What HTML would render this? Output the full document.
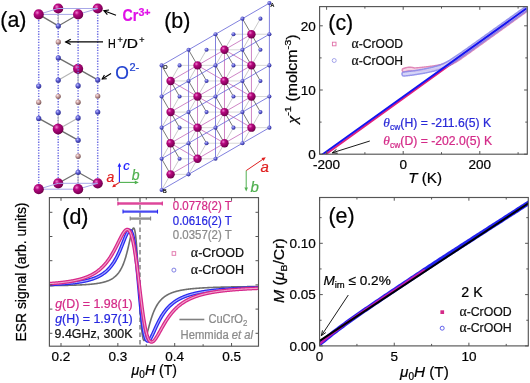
<!DOCTYPE html><html><head><meta charset="utf-8"><style>html,body{margin:0;padding:0;background:#fff;}svg{display:block;will-change:transform}</style></head><body>
<svg width="530" height="383" viewBox="0 0 530 383" font-family="'Liberation Sans', sans-serif">
<defs>
<radialGradient id="cr" cx="0.36" cy="0.33" r="0.75">
 <stop offset="0" stop-color="#f080d0"/><stop offset="0.3" stop-color="#b80880"/><stop offset="0.8" stop-color="#800058"/><stop offset="1" stop-color="#500030"/>
</radialGradient>
<radialGradient id="ox" cx="0.38" cy="0.35" r="0.72">
 <stop offset="0" stop-color="#c0c0ff"/><stop offset="0.45" stop-color="#5a5ad0"/><stop offset="1" stop-color="#2a2a88"/>
</radialGradient>
<radialGradient id="hy" cx="0.38" cy="0.35" r="0.72">
 <stop offset="0" stop-color="#f6e6e6"/><stop offset="0.45" stop-color="#c89c9c"/><stop offset="1" stop-color="#6a4848"/>
</radialGradient>
<clipPath id="clipd"><rect x="49" y="197.5" width="209.5" height="148.5"/></clipPath>
<clipPath id="clipc"><rect x="319.6" y="6.9" width="207" height="147.4"/></clipPath>
<clipPath id="clipe"><rect x="319.6" y="197.5" width="208.6" height="148.3"/></clipPath>
</defs>
<rect width="530" height="383" fill="#fff"/>
<text x="0.30" y="27.20" font-size="21.4" fill="#000" text-anchor="start"  stroke="#000" stroke-width="0.22">(a)</text>
<line x1="38.70" y1="12.00" x2="38.70" y2="186.00" stroke="#7070e4" stroke-width="1.5" stroke-dasharray="1.3 1.4"/>
<line x1="58.20" y1="12.00" x2="58.20" y2="186.00" stroke="#7070e4" stroke-width="1.5" stroke-dasharray="1.3 1.4"/>
<line x1="78.10" y1="12.00" x2="78.10" y2="186.00" stroke="#7070e4" stroke-width="1.5" stroke-dasharray="1.3 1.4"/>
<line x1="97.70" y1="12.00" x2="97.70" y2="186.00" stroke="#7070e4" stroke-width="1.5" stroke-dasharray="1.3 1.4"/>
<line x1="38.70" y1="14.40" x2="58.30" y2="25.90" stroke="#6e6e6e" stroke-width="1.3" />
<line x1="78.10" y1="14.40" x2="58.30" y2="25.90" stroke="#6e6e6e" stroke-width="1.1" />
<line x1="58.20" y1="8.50" x2="58.30" y2="25.90" stroke="#b4b4b4" stroke-width="1.0" />
<line x1="78.10" y1="68.80" x2="58.20" y2="57.80" stroke="#6e6e6e" stroke-width="1.4" />
<line x1="78.10" y1="68.80" x2="97.70" y2="79.90" stroke="#6e6e6e" stroke-width="1.4" />
<line x1="78.10" y1="68.80" x2="58.20" y2="80.20" stroke="#b4b4b4" stroke-width="1.1" />
<line x1="78.10" y1="68.80" x2="78.10" y2="85.70" stroke="#b4b4b4" stroke-width="1.1" />
<line x1="58.20" y1="129.20" x2="38.70" y2="118.40" stroke="#6e6e6e" stroke-width="1.4" />
<line x1="58.20" y1="129.20" x2="78.10" y2="140.20" stroke="#6e6e6e" stroke-width="1.4" />
<line x1="58.20" y1="129.20" x2="58.20" y2="112.40" stroke="#b4b4b4" stroke-width="1.1" />
<line x1="58.20" y1="129.20" x2="78.10" y2="117.90" stroke="#b4b4b4" stroke-width="1.1" />
<line x1="78.10" y1="172.30" x2="58.20" y2="183.30" stroke="#6e6e6e" stroke-width="1.3" />
<line x1="78.10" y1="172.30" x2="97.70" y2="183.30" stroke="#6e6e6e" stroke-width="1.3" />
<line x1="78.10" y1="172.30" x2="78.10" y2="189.20" stroke="#b4b4b4" stroke-width="1.0" />
<circle cx="58.20" cy="8.50" r="5.1" fill="url(#cr)"/>
<circle cx="97.70" cy="8.50" r="5.1" fill="url(#cr)"/>
<circle cx="58.20" cy="183.30" r="5.1" fill="url(#cr)"/>
<circle cx="97.70" cy="183.30" r="5.1" fill="url(#cr)"/>
<line x1="38.70" y1="14.40" x2="58.20" y2="8.50" stroke="#a8a8e8" stroke-width="1.0" />
<line x1="58.20" y1="8.50" x2="97.70" y2="8.50" stroke="#a8a8e8" stroke-width="1.0" />
<line x1="38.70" y1="14.40" x2="78.10" y2="14.40" stroke="#a8a8e8" stroke-width="1.0" />
<line x1="78.10" y1="14.40" x2="97.70" y2="8.50" stroke="#a8a8e8" stroke-width="1.0" />
<line x1="38.70" y1="189.20" x2="58.20" y2="183.30" stroke="#a8a8e8" stroke-width="1.0" />
<line x1="58.20" y1="183.30" x2="97.70" y2="183.30" stroke="#a8a8e8" stroke-width="1.0" />
<line x1="38.70" y1="189.20" x2="78.10" y2="189.20" stroke="#a8a8e8" stroke-width="1.0" />
<line x1="78.10" y1="189.20" x2="97.70" y2="183.30" stroke="#a8a8e8" stroke-width="1.0" />
<circle cx="38.70" cy="14.40" r="5.1" fill="url(#cr)"/>
<circle cx="78.10" cy="14.40" r="5.1" fill="url(#cr)"/>
<circle cx="38.70" cy="189.20" r="5.1" fill="url(#cr)"/>
<circle cx="78.10" cy="189.20" r="5.1" fill="url(#cr)"/>
<circle cx="78.10" cy="68.80" r="5.1" fill="url(#cr)"/>
<line x1="78.10" y1="63.80" x2="78.10" y2="74.00" stroke="#7070e4" stroke-width="1.5" stroke-dasharray="1.3 1.4"/>
<circle cx="58.10" cy="129.00" r="5.4" fill="url(#cr)"/>
<circle cx="58.30" cy="25.90" r="2.6" fill="url(#ox)"/>
<circle cx="58.30" cy="57.90" r="2.6" fill="url(#ox)"/>
<circle cx="58.20" cy="80.20" r="2.6" fill="url(#ox)"/>
<circle cx="97.70" cy="79.90" r="2.6" fill="url(#ox)"/>
<circle cx="38.70" cy="86.10" r="2.6" fill="url(#ox)"/>
<circle cx="78.10" cy="85.70" r="2.6" fill="url(#ox)"/>
<circle cx="58.20" cy="112.40" r="2.6" fill="url(#ox)"/>
<circle cx="97.70" cy="112.00" r="2.6" fill="url(#ox)"/>
<circle cx="38.70" cy="118.40" r="2.6" fill="url(#ox)"/>
<circle cx="78.10" cy="117.90" r="2.6" fill="url(#ox)"/>
<circle cx="78.10" cy="140.20" r="2.6" fill="url(#ox)"/>
<circle cx="78.10" cy="172.30" r="2.6" fill="url(#ox)"/>
<circle cx="58.30" cy="41.90" r="2.6" fill="url(#hy)"/>
<circle cx="58.20" cy="96.30" r="2.6" fill="url(#hy)"/>
<circle cx="97.70" cy="96.00" r="2.6" fill="url(#hy)"/>
<circle cx="38.70" cy="102.20" r="2.6" fill="url(#hy)"/>
<circle cx="78.10" cy="102.20" r="2.6" fill="url(#hy)"/>
<circle cx="78.10" cy="156.20" r="2.6" fill="url(#hy)"/>
<line x1="116.00" y1="15.20" x2="104.00" y2="10.70" stroke="#000" stroke-width="1.2" />
<polyline points="109.06,10.03 104.00,10.70 107.37,14.53" fill="none" stroke="#000" stroke-width="1.2"/>
<text x="122.4" y="20.8" font-size="16.5" font-weight="bold" fill="#e010e8" textLength="15.8" lengthAdjust="spacingAndGlyphs" stroke="#e010e8" stroke-width="0.22">Cr</text>
<text x="138.4" y="15.6" font-size="11.5" font-weight="bold" fill="#e010e8" textLength="12.2" lengthAdjust="spacingAndGlyphs" stroke="#e010e8" stroke-width="0.22">3+</text>
<line x1="103.00" y1="41.90" x2="65.70" y2="41.90" stroke="#000" stroke-width="1.2" />
<polyline points="70.70,39.30 65.70,41.90 70.70,44.50" fill="none" stroke="#000" stroke-width="1.2"/>
<text x="108.0" y="48.2" font-size="13.6" fill="#000" textLength="7.8" lengthAdjust="spacingAndGlyphs" stroke="#000" stroke-width="0.22">H</text>
<text x="117.6" y="43.3" font-size="9" fill="#000" stroke="#000" stroke-width="0.22">+</text>
<text x="122.4" y="48.2" font-size="13.6" fill="#000" textLength="15.5" lengthAdjust="spacingAndGlyphs" stroke="#000" stroke-width="0.22">/D</text>
<text x="139.2" y="43.3" font-size="9" fill="#000" stroke="#000" stroke-width="0.22">+</text>
<line x1="111.00" y1="73.50" x2="102.20" y2="79.00" stroke="#000" stroke-width="1.1" />
<polyline points="104.43,75.01 102.20,79.00 106.76,78.75" fill="none" stroke="#000" stroke-width="1.1"/>
<text x="115.2" y="78.8" font-size="17.5" fill="#2040d0" stroke="#2040d0" stroke-width="0.22">O</text>
<text x="129.4" y="71.4" font-size="11" fill="#2040d0" stroke="#2040d0" stroke-width="0.22">2-</text>
<line x1="119.40" y1="182.40" x2="119.40" y2="166.20" stroke="#2020ff" stroke-width="1.1" />
<polygon points="121.20,166.70 119.40,162.70 117.60,166.70" fill="#2020ff"/>
<line x1="119.40" y1="182.40" x2="135.30" y2="182.40" stroke="#50b050" stroke-width="1.1" />
<polygon points="134.80,184.20 138.80,182.40 134.80,180.60" fill="#50b050"/>
<line x1="119.40" y1="182.40" x2="114.61" y2="185.55" stroke="#e02020" stroke-width="1.1" />
<polygon points="114.04,183.77 112.10,187.20 116.01,186.78" fill="#e02020"/>
<text x="123.30" y="169.50" font-size="13" fill="#2020ff" text-anchor="start" font-style="italic" stroke="#2020ff" stroke-width="0.22">c</text>
<text x="106.50" y="182.00" font-size="14" fill="#e02020" text-anchor="start" font-style="italic" stroke="#e02020" stroke-width="0.22">a</text>
<text x="131.80" y="179.70" font-size="14" fill="#50b050" text-anchor="start" font-style="italic" stroke="#50b050" stroke-width="0.22">b</text>
<text x="164.20" y="27.60" font-size="21.4" fill="#000" text-anchor="start"  stroke="#000" stroke-width="0.22">(b)</text>
<line x1="251.43" y1="34.24" x2="233.47" y2="34.24" stroke="#d0d0d0" stroke-width="0.85" />
<line x1="251.43" y1="34.24" x2="269.40" y2="34.24" stroke="#d0d0d0" stroke-width="0.85" />
<line x1="224.48" y1="49.81" x2="206.52" y2="49.81" stroke="#d0d0d0" stroke-width="0.85" />
<line x1="224.48" y1="49.81" x2="242.45" y2="49.81" stroke="#d0d0d0" stroke-width="0.85" />
<line x1="197.53" y1="65.38" x2="179.57" y2="65.38" stroke="#d0d0d0" stroke-width="0.85" />
<line x1="197.53" y1="65.38" x2="215.50" y2="65.38" stroke="#d0d0d0" stroke-width="0.85" />
<line x1="251.43" y1="65.38" x2="233.47" y2="65.38" stroke="#d0d0d0" stroke-width="0.85" />
<line x1="251.43" y1="65.38" x2="269.40" y2="65.38" stroke="#d0d0d0" stroke-width="0.85" />
<line x1="170.58" y1="80.95" x2="188.55" y2="80.95" stroke="#d0d0d0" stroke-width="0.85" />
<line x1="224.48" y1="80.95" x2="206.52" y2="80.95" stroke="#d0d0d0" stroke-width="0.85" />
<line x1="224.48" y1="80.95" x2="242.45" y2="80.95" stroke="#d0d0d0" stroke-width="0.85" />
<line x1="197.53" y1="96.52" x2="179.57" y2="96.52" stroke="#d0d0d0" stroke-width="0.85" />
<line x1="197.53" y1="96.52" x2="215.50" y2="96.52" stroke="#d0d0d0" stroke-width="0.85" />
<line x1="251.44" y1="96.52" x2="233.47" y2="96.52" stroke="#d0d0d0" stroke-width="0.85" />
<line x1="251.44" y1="96.52" x2="269.40" y2="96.52" stroke="#d0d0d0" stroke-width="0.85" />
<line x1="170.58" y1="112.09" x2="188.55" y2="112.09" stroke="#d0d0d0" stroke-width="0.85" />
<line x1="224.49" y1="112.09" x2="206.52" y2="112.09" stroke="#d0d0d0" stroke-width="0.85" />
<line x1="224.49" y1="112.09" x2="242.45" y2="112.09" stroke="#d0d0d0" stroke-width="0.85" />
<line x1="197.54" y1="127.66" x2="179.57" y2="127.66" stroke="#d0d0d0" stroke-width="0.85" />
<line x1="197.54" y1="127.66" x2="215.50" y2="127.66" stroke="#d0d0d0" stroke-width="0.85" />
<line x1="251.44" y1="127.66" x2="233.47" y2="127.66" stroke="#d0d0d0" stroke-width="0.85" />
<line x1="251.44" y1="127.66" x2="269.40" y2="127.66" stroke="#d0d0d0" stroke-width="0.85" />
<line x1="170.59" y1="143.23" x2="188.55" y2="143.23" stroke="#d0d0d0" stroke-width="0.85" />
<line x1="224.49" y1="143.23" x2="206.52" y2="143.23" stroke="#d0d0d0" stroke-width="0.85" />
<line x1="224.49" y1="143.23" x2="242.45" y2="143.23" stroke="#d0d0d0" stroke-width="0.85" />
<line x1="197.54" y1="158.80" x2="179.57" y2="158.80" stroke="#d0d0d0" stroke-width="0.85" />
<line x1="197.54" y1="158.80" x2="215.50" y2="158.80" stroke="#d0d0d0" stroke-width="0.85" />
<line x1="170.59" y1="174.37" x2="188.55" y2="174.37" stroke="#d0d0d0" stroke-width="0.85" />
<line x1="251.43" y1="34.24" x2="242.45" y2="18.67" stroke="#6a6a6a" stroke-width="0.9" />
<line x1="251.43" y1="34.24" x2="260.42" y2="49.81" stroke="#6a6a6a" stroke-width="0.9" />
<line x1="251.43" y1="34.24" x2="260.42" y2="18.67" stroke="#bcbcbc" stroke-width="0.8" />
<line x1="251.43" y1="34.24" x2="242.45" y2="49.81" stroke="#bcbcbc" stroke-width="0.8" />
<line x1="224.48" y1="49.81" x2="215.50" y2="34.24" stroke="#6a6a6a" stroke-width="0.9" />
<line x1="224.48" y1="49.81" x2="233.47" y2="65.38" stroke="#6a6a6a" stroke-width="0.9" />
<line x1="224.48" y1="49.81" x2="233.47" y2="34.24" stroke="#bcbcbc" stroke-width="0.8" />
<line x1="224.48" y1="49.81" x2="215.50" y2="65.38" stroke="#bcbcbc" stroke-width="0.8" />
<line x1="197.53" y1="65.38" x2="188.55" y2="49.81" stroke="#6a6a6a" stroke-width="0.9" />
<line x1="197.53" y1="65.38" x2="206.52" y2="80.95" stroke="#6a6a6a" stroke-width="0.9" />
<line x1="197.53" y1="65.38" x2="206.52" y2="49.81" stroke="#bcbcbc" stroke-width="0.8" />
<line x1="197.53" y1="65.38" x2="188.55" y2="80.95" stroke="#bcbcbc" stroke-width="0.8" />
<line x1="251.43" y1="65.38" x2="242.45" y2="49.81" stroke="#6a6a6a" stroke-width="0.9" />
<line x1="251.43" y1="65.38" x2="260.42" y2="80.95" stroke="#6a6a6a" stroke-width="0.9" />
<line x1="251.43" y1="65.38" x2="260.42" y2="49.81" stroke="#bcbcbc" stroke-width="0.8" />
<line x1="251.43" y1="65.38" x2="242.45" y2="80.95" stroke="#bcbcbc" stroke-width="0.8" />
<line x1="170.58" y1="80.95" x2="161.60" y2="65.38" stroke="#6a6a6a" stroke-width="0.9" />
<line x1="170.58" y1="80.95" x2="179.57" y2="96.52" stroke="#6a6a6a" stroke-width="0.9" />
<line x1="170.58" y1="80.95" x2="179.57" y2="65.38" stroke="#bcbcbc" stroke-width="0.8" />
<line x1="170.58" y1="80.95" x2="161.60" y2="96.52" stroke="#bcbcbc" stroke-width="0.8" />
<line x1="224.48" y1="80.95" x2="215.50" y2="65.38" stroke="#6a6a6a" stroke-width="0.9" />
<line x1="224.48" y1="80.95" x2="233.47" y2="96.52" stroke="#6a6a6a" stroke-width="0.9" />
<line x1="224.48" y1="80.95" x2="233.47" y2="65.38" stroke="#bcbcbc" stroke-width="0.8" />
<line x1="224.48" y1="80.95" x2="215.50" y2="96.52" stroke="#bcbcbc" stroke-width="0.8" />
<line x1="197.53" y1="96.52" x2="188.55" y2="80.95" stroke="#6a6a6a" stroke-width="0.9" />
<line x1="197.53" y1="96.52" x2="206.52" y2="112.09" stroke="#6a6a6a" stroke-width="0.9" />
<line x1="197.53" y1="96.52" x2="206.52" y2="80.95" stroke="#bcbcbc" stroke-width="0.8" />
<line x1="197.53" y1="96.52" x2="188.55" y2="112.09" stroke="#bcbcbc" stroke-width="0.8" />
<line x1="251.44" y1="96.52" x2="242.45" y2="80.95" stroke="#6a6a6a" stroke-width="0.9" />
<line x1="251.44" y1="96.52" x2="260.42" y2="112.09" stroke="#6a6a6a" stroke-width="0.9" />
<line x1="251.44" y1="96.52" x2="260.42" y2="80.95" stroke="#bcbcbc" stroke-width="0.8" />
<line x1="251.44" y1="96.52" x2="242.45" y2="112.09" stroke="#bcbcbc" stroke-width="0.8" />
<line x1="170.58" y1="112.09" x2="161.60" y2="96.52" stroke="#6a6a6a" stroke-width="0.9" />
<line x1="170.58" y1="112.09" x2="179.57" y2="127.66" stroke="#6a6a6a" stroke-width="0.9" />
<line x1="170.58" y1="112.09" x2="179.57" y2="96.52" stroke="#bcbcbc" stroke-width="0.8" />
<line x1="170.58" y1="112.09" x2="161.60" y2="127.66" stroke="#bcbcbc" stroke-width="0.8" />
<line x1="224.49" y1="112.09" x2="215.50" y2="96.52" stroke="#6a6a6a" stroke-width="0.9" />
<line x1="224.49" y1="112.09" x2="233.47" y2="127.66" stroke="#6a6a6a" stroke-width="0.9" />
<line x1="224.49" y1="112.09" x2="233.47" y2="96.52" stroke="#bcbcbc" stroke-width="0.8" />
<line x1="224.49" y1="112.09" x2="215.50" y2="127.66" stroke="#bcbcbc" stroke-width="0.8" />
<line x1="197.54" y1="127.66" x2="188.55" y2="112.09" stroke="#6a6a6a" stroke-width="0.9" />
<line x1="197.54" y1="127.66" x2="206.52" y2="143.23" stroke="#6a6a6a" stroke-width="0.9" />
<line x1="197.54" y1="127.66" x2="206.52" y2="112.09" stroke="#bcbcbc" stroke-width="0.8" />
<line x1="197.54" y1="127.66" x2="188.55" y2="143.23" stroke="#bcbcbc" stroke-width="0.8" />
<line x1="251.44" y1="127.66" x2="242.45" y2="112.09" stroke="#6a6a6a" stroke-width="0.9" />
<line x1="251.44" y1="127.66" x2="260.42" y2="112.09" stroke="#bcbcbc" stroke-width="0.8" />
<line x1="251.44" y1="127.66" x2="242.45" y2="143.23" stroke="#bcbcbc" stroke-width="0.8" />
<line x1="170.59" y1="143.23" x2="161.60" y2="127.66" stroke="#6a6a6a" stroke-width="0.9" />
<line x1="170.59" y1="143.23" x2="179.57" y2="158.80" stroke="#6a6a6a" stroke-width="0.9" />
<line x1="170.59" y1="143.23" x2="179.57" y2="127.66" stroke="#bcbcbc" stroke-width="0.8" />
<line x1="170.59" y1="143.23" x2="161.60" y2="158.80" stroke="#bcbcbc" stroke-width="0.8" />
<line x1="224.49" y1="143.23" x2="215.50" y2="127.66" stroke="#6a6a6a" stroke-width="0.9" />
<line x1="224.49" y1="143.23" x2="233.47" y2="127.66" stroke="#bcbcbc" stroke-width="0.8" />
<line x1="224.49" y1="143.23" x2="215.50" y2="158.80" stroke="#bcbcbc" stroke-width="0.8" />
<line x1="197.54" y1="158.80" x2="188.55" y2="143.23" stroke="#6a6a6a" stroke-width="0.9" />
<line x1="197.54" y1="158.80" x2="206.52" y2="143.23" stroke="#bcbcbc" stroke-width="0.8" />
<line x1="197.54" y1="158.80" x2="188.55" y2="174.37" stroke="#bcbcbc" stroke-width="0.8" />
<line x1="170.59" y1="174.37" x2="161.60" y2="158.80" stroke="#6a6a6a" stroke-width="0.9" />
<line x1="170.59" y1="174.37" x2="179.57" y2="158.80" stroke="#bcbcbc" stroke-width="0.8" />
<line x1="170.59" y1="174.37" x2="161.60" y2="189.94" stroke="#bcbcbc" stroke-width="0.8" />
<line x1="251.43" y1="34.24" x2="251.43" y2="65.38" stroke="#c878c0" stroke-width="0.9" />
<line x1="224.48" y1="49.81" x2="224.48" y2="80.95" stroke="#c878c0" stroke-width="0.9" />
<line x1="224.48" y1="49.81" x2="251.43" y2="34.24" stroke="#c878c0" stroke-width="0.9" />
<line x1="224.48" y1="49.81" x2="251.43" y2="65.38" stroke="#c878c0" stroke-width="0.9" />
<line x1="197.53" y1="65.38" x2="197.53" y2="96.52" stroke="#c878c0" stroke-width="0.9" />
<line x1="197.53" y1="65.38" x2="224.48" y2="49.81" stroke="#c878c0" stroke-width="0.9" />
<line x1="197.53" y1="65.38" x2="224.48" y2="80.95" stroke="#c878c0" stroke-width="0.9" />
<line x1="251.43" y1="65.38" x2="251.43" y2="96.52" stroke="#c878c0" stroke-width="0.9" />
<line x1="170.58" y1="80.95" x2="170.58" y2="112.09" stroke="#c878c0" stroke-width="0.9" />
<line x1="170.58" y1="80.95" x2="197.53" y2="65.38" stroke="#c878c0" stroke-width="0.9" />
<line x1="170.58" y1="80.95" x2="197.53" y2="96.52" stroke="#c878c0" stroke-width="0.9" />
<line x1="224.48" y1="80.95" x2="224.48" y2="112.09" stroke="#c878c0" stroke-width="0.9" />
<line x1="224.48" y1="80.95" x2="251.43" y2="65.38" stroke="#c878c0" stroke-width="0.9" />
<line x1="224.48" y1="80.95" x2="251.43" y2="96.52" stroke="#c878c0" stroke-width="0.9" />
<line x1="197.53" y1="96.52" x2="197.53" y2="127.66" stroke="#c878c0" stroke-width="0.9" />
<line x1="197.53" y1="96.52" x2="224.48" y2="80.95" stroke="#c878c0" stroke-width="0.9" />
<line x1="197.53" y1="96.52" x2="224.48" y2="112.09" stroke="#c878c0" stroke-width="0.9" />
<line x1="251.44" y1="96.52" x2="251.44" y2="127.66" stroke="#c878c0" stroke-width="0.9" />
<line x1="170.58" y1="112.09" x2="170.58" y2="143.23" stroke="#c878c0" stroke-width="0.9" />
<line x1="170.58" y1="112.09" x2="197.53" y2="96.52" stroke="#c878c0" stroke-width="0.9" />
<line x1="170.58" y1="112.09" x2="197.53" y2="127.66" stroke="#c878c0" stroke-width="0.9" />
<line x1="224.49" y1="112.09" x2="224.49" y2="143.23" stroke="#c878c0" stroke-width="0.9" />
<line x1="224.49" y1="112.09" x2="251.44" y2="96.52" stroke="#c878c0" stroke-width="0.9" />
<line x1="224.49" y1="112.09" x2="251.44" y2="127.66" stroke="#c878c0" stroke-width="0.9" />
<line x1="197.54" y1="127.66" x2="197.54" y2="158.80" stroke="#c878c0" stroke-width="0.9" />
<line x1="197.54" y1="127.66" x2="224.49" y2="112.09" stroke="#c878c0" stroke-width="0.9" />
<line x1="197.54" y1="127.66" x2="224.49" y2="143.23" stroke="#c878c0" stroke-width="0.9" />
<line x1="170.59" y1="143.23" x2="170.59" y2="174.37" stroke="#c878c0" stroke-width="0.9" />
<line x1="170.59" y1="143.23" x2="197.54" y2="127.66" stroke="#c878c0" stroke-width="0.9" />
<line x1="170.59" y1="143.23" x2="197.54" y2="158.80" stroke="#c878c0" stroke-width="0.9" />
<line x1="224.49" y1="143.23" x2="251.44" y2="127.66" stroke="#c878c0" stroke-width="0.9" />
<line x1="197.54" y1="158.80" x2="224.49" y2="143.23" stroke="#c878c0" stroke-width="0.9" />
<line x1="170.59" y1="174.37" x2="197.54" y2="158.80" stroke="#c878c0" stroke-width="0.9" />
<line x1="161.60" y1="65.38" x2="161.60" y2="189.94" stroke="#6a6ad8" stroke-width="0.85" />
<line x1="188.55" y1="49.81" x2="188.55" y2="174.37" stroke="#6a6ad8" stroke-width="0.85" />
<line x1="215.50" y1="34.24" x2="215.50" y2="158.80" stroke="#6a6ad8" stroke-width="0.85" />
<line x1="242.45" y1="18.67" x2="242.45" y2="143.23" stroke="#6a6ad8" stroke-width="0.85" />
<line x1="269.40" y1="3.10" x2="269.40" y2="127.66" stroke="#6a6ad8" stroke-width="0.85" />
<line x1="161.60" y1="65.38" x2="269.40" y2="3.10" stroke="#6a6ad8" stroke-width="0.85" />
<line x1="161.60" y1="96.52" x2="269.40" y2="34.24" stroke="#6a6ad8" stroke-width="0.85" />
<line x1="161.60" y1="127.66" x2="269.40" y2="65.38" stroke="#6a6ad8" stroke-width="0.85" />
<line x1="161.60" y1="158.80" x2="269.40" y2="96.52" stroke="#6a6ad8" stroke-width="0.85" />
<line x1="161.60" y1="189.94" x2="269.40" y2="127.66" stroke="#6a6ad8" stroke-width="0.85" />
<circle cx="269.40" cy="3.10" r="2.05" fill="url(#ox)"/>
<circle cx="242.45" cy="18.67" r="2.05" fill="url(#ox)"/>
<circle cx="260.42" cy="18.67" r="2.05" fill="url(#ox)"/>
<circle cx="215.50" cy="34.24" r="2.05" fill="url(#ox)"/>
<circle cx="233.47" cy="34.24" r="2.05" fill="url(#ox)"/>
<circle cx="269.40" cy="34.24" r="2.05" fill="url(#ox)"/>
<circle cx="188.55" cy="49.81" r="2.05" fill="url(#ox)"/>
<circle cx="206.52" cy="49.81" r="2.05" fill="url(#ox)"/>
<circle cx="242.45" cy="49.81" r="2.05" fill="url(#ox)"/>
<circle cx="260.42" cy="49.81" r="2.05" fill="url(#ox)"/>
<circle cx="161.60" cy="65.38" r="2.05" fill="url(#ox)"/>
<circle cx="179.57" cy="65.38" r="2.05" fill="url(#ox)"/>
<circle cx="215.50" cy="65.38" r="2.05" fill="url(#ox)"/>
<circle cx="233.47" cy="65.38" r="2.05" fill="url(#ox)"/>
<circle cx="269.40" cy="65.38" r="2.05" fill="url(#ox)"/>
<circle cx="188.55" cy="80.95" r="2.05" fill="url(#ox)"/>
<circle cx="206.52" cy="80.95" r="2.05" fill="url(#ox)"/>
<circle cx="242.45" cy="80.95" r="2.05" fill="url(#ox)"/>
<circle cx="260.42" cy="80.95" r="2.05" fill="url(#ox)"/>
<circle cx="161.60" cy="96.52" r="2.05" fill="url(#ox)"/>
<circle cx="179.57" cy="96.52" r="2.05" fill="url(#ox)"/>
<circle cx="215.50" cy="96.52" r="2.05" fill="url(#ox)"/>
<circle cx="233.47" cy="96.52" r="2.05" fill="url(#ox)"/>
<circle cx="269.40" cy="96.52" r="2.05" fill="url(#ox)"/>
<circle cx="188.55" cy="112.09" r="2.05" fill="url(#ox)"/>
<circle cx="206.52" cy="112.09" r="2.05" fill="url(#ox)"/>
<circle cx="242.45" cy="112.09" r="2.05" fill="url(#ox)"/>
<circle cx="260.42" cy="112.09" r="2.05" fill="url(#ox)"/>
<circle cx="161.60" cy="127.66" r="2.05" fill="url(#ox)"/>
<circle cx="179.57" cy="127.66" r="2.05" fill="url(#ox)"/>
<circle cx="215.50" cy="127.66" r="2.05" fill="url(#ox)"/>
<circle cx="233.47" cy="127.66" r="2.05" fill="url(#ox)"/>
<circle cx="269.40" cy="127.66" r="2.05" fill="url(#ox)"/>
<circle cx="188.55" cy="143.23" r="2.05" fill="url(#ox)"/>
<circle cx="206.52" cy="143.23" r="2.05" fill="url(#ox)"/>
<circle cx="242.45" cy="143.23" r="2.05" fill="url(#ox)"/>
<circle cx="161.60" cy="158.80" r="2.05" fill="url(#ox)"/>
<circle cx="179.57" cy="158.80" r="2.05" fill="url(#ox)"/>
<circle cx="215.50" cy="158.80" r="2.05" fill="url(#ox)"/>
<circle cx="188.55" cy="174.37" r="2.05" fill="url(#ox)"/>
<circle cx="161.60" cy="189.94" r="2.05" fill="url(#ox)"/>
<circle cx="251.43" cy="34.24" r="4.2" fill="url(#cr)"/>
<circle cx="224.48" cy="49.81" r="4.2" fill="url(#cr)"/>
<circle cx="197.53" cy="65.38" r="4.2" fill="url(#cr)"/>
<circle cx="251.43" cy="65.38" r="4.2" fill="url(#cr)"/>
<circle cx="170.58" cy="80.95" r="4.2" fill="url(#cr)"/>
<circle cx="224.48" cy="80.95" r="4.2" fill="url(#cr)"/>
<circle cx="197.53" cy="96.52" r="4.2" fill="url(#cr)"/>
<circle cx="251.44" cy="96.52" r="4.2" fill="url(#cr)"/>
<circle cx="170.58" cy="112.09" r="4.2" fill="url(#cr)"/>
<circle cx="224.49" cy="112.09" r="4.2" fill="url(#cr)"/>
<circle cx="197.54" cy="127.66" r="4.2" fill="url(#cr)"/>
<circle cx="251.44" cy="127.66" r="4.2" fill="url(#cr)"/>
<circle cx="170.59" cy="143.23" r="4.2" fill="url(#cr)"/>
<circle cx="224.49" cy="143.23" r="4.2" fill="url(#cr)"/>
<circle cx="197.54" cy="158.80" r="4.2" fill="url(#cr)"/>
<circle cx="170.59" cy="174.37" r="4.2" fill="url(#cr)"/>
<text x="163.20" y="68.50" font-size="5.5" fill="#000" text-anchor="start"  stroke="#000" stroke-width="0.22">O</text>
<text x="270.50" y="6.50" font-size="5.5" fill="#000" text-anchor="start"  stroke="#000" stroke-width="0.22">A</text>
<text x="163.00" y="193.00" font-size="5.5" fill="#000" text-anchor="start"  stroke="#000" stroke-width="0.22">B</text>
<line x1="246.20" y1="170.60" x2="262.90" y2="159.27" stroke="#e02020" stroke-width="1.0" />
<polygon points="263.50,161.04 265.80,157.30 261.48,158.06" fill="#e02020"/>
<line x1="246.20" y1="170.60" x2="246.20" y2="187.90" stroke="#50b050" stroke-width="1.0" />
<polygon points="244.40,187.40 246.20,191.40 248.00,187.40" fill="#50b050"/>
<text x="260.60" y="172.40" font-size="15" fill="#e02020" text-anchor="start" font-style="italic" stroke="#e02020" stroke-width="0.22">a</text>
<text x="250.60" y="191.60" font-size="15" fill="#50b050" text-anchor="start" font-style="italic" stroke="#50b050" stroke-width="0.22">b</text>
<clipPath id="clipc2"><rect x="319.6" y="6.6" width="207.69999999999993" height="147.6"/></clipPath>
<g clip-path="url(#clipc2)">
<polyline points="404.00,70.20 404.76,69.95 405.52,69.72 406.29,69.50 407.05,69.32 407.81,69.18 408.57,69.08 409.34,69.03 410.10,69.03 410.86,69.09 411.62,69.18 412.38,69.31 413.15,69.47 413.91,69.65 414.67,69.73 415.43,69.68 416.20,69.63 416.96,69.57 417.72,69.51 418.48,69.45 419.25,69.38 420.01,69.31 420.77,69.24 421.53,69.17 422.29,69.10 423.06,69.02 423.82,68.94 424.58,68.85 425.34,68.77 426.11,68.68 426.87,68.59 427.63,68.49 428.39,68.40 429.15,68.30 429.92,68.19 430.68,68.09 431.44,67.98 432.20,67.87 432.97,67.75 433.73,67.63 434.49,67.51 435.25,67.39 436.02,67.26 436.78,67.12 437.54,66.98 438.30,66.84 439.06,66.69 439.83,66.53 440.59,66.36 441.35,66.19 442.11,66.00 442.88,65.81 443.64,65.61 444.40,65.39 445.16,65.16 445.92,64.91 446.69,64.64 447.45,64.36 448.21,64.06 448.97,63.74 449.74,63.40 450.50,63.05 451.26,62.67 452.02,62.27 452.78,61.86 453.55,61.43 454.31,60.99 455.07,60.53 455.83,60.06 456.60,59.58 457.36,59.09 458.12,58.59 458.88,58.08 459.65,57.56 460.41,57.05 461.17,56.52 461.93,56.00 462.69,55.46 463.46,54.93 464.22,54.39 464.98,53.86 465.74,53.32 466.51,52.78 467.27,52.23 468.03,51.69 468.79,51.15 469.55,50.60 470.32,50.05 471.08,49.51 471.84,48.96 472.60,48.41 473.37,47.87 474.13,47.32 474.89,46.77 475.65,46.22 476.42,45.68 477.18,45.13 477.94,44.58 478.70,44.03 479.46,43.48 480.23,42.93 480.99,42.38 481.75,41.84 482.51,41.29 483.28,40.74 484.04,40.19 484.80,39.64 485.56,39.09 486.32,38.54 487.09,37.99 487.85,37.44 488.61,36.89 489.37,36.34 490.14,35.80 490.90,35.25 491.66,34.70 492.42,34.15 493.18,33.60 493.95,33.05 494.71,32.50 495.47,31.95 496.23,31.40 497.00,30.85 497.76,30.30 498.52,29.75 499.28,29.21 500.05,28.66 500.81,28.11 501.57,27.56 502.33,27.01 503.09,26.46 503.86,25.91 504.62,25.36 505.38,24.81 506.14,24.26 506.91,23.71 507.67,23.16 508.43,22.61 509.19,22.07 509.95,21.52 510.72,20.97 511.48,20.42 512.24,19.87 513.00,19.32 513.77,18.77 514.53,18.22 515.29,17.67 516.05,17.12 516.82,16.57 517.58,16.02 518.34,15.48 519.10,14.93 519.86,14.38 520.63,13.83 521.39,13.28 522.15,12.73 522.91,12.18 523.68,11.63 524.44,11.08 525.20,10.53" fill="none" stroke="#e088b8" stroke-width="5.0" stroke-linejoin="round" stroke-linecap="round" />
<polyline points="404.00,70.20 404.76,69.95 405.52,69.72 406.29,69.50 407.05,69.32 407.81,69.18 408.57,69.08 409.34,69.03 410.10,69.03 410.86,69.09 411.62,69.18 412.38,69.31 413.15,69.47 413.91,69.65 414.67,69.73 415.43,69.68 416.20,69.63 416.96,69.57 417.72,69.51 418.48,69.45 419.25,69.38 420.01,69.31 420.77,69.24 421.53,69.17 422.29,69.10 423.06,69.02 423.82,68.94 424.58,68.85 425.34,68.77 426.11,68.68 426.87,68.59 427.63,68.49 428.39,68.40 429.15,68.30 429.92,68.19 430.68,68.09 431.44,67.98 432.20,67.87 432.97,67.75 433.73,67.63 434.49,67.51 435.25,67.39 436.02,67.26 436.78,67.12 437.54,66.98 438.30,66.84 439.06,66.69 439.83,66.53 440.59,66.36 441.35,66.19 442.11,66.00 442.88,65.81 443.64,65.61 444.40,65.39 445.16,65.16 445.92,64.91 446.69,64.64 447.45,64.36 448.21,64.06 448.97,63.74 449.74,63.40 450.50,63.05 451.26,62.67 452.02,62.27 452.78,61.86 453.55,61.43 454.31,60.99 455.07,60.53 455.83,60.06 456.60,59.58 457.36,59.09 458.12,58.59 458.88,58.08 459.65,57.56 460.41,57.05 461.17,56.52 461.93,56.00 462.69,55.46 463.46,54.93 464.22,54.39 464.98,53.86 465.74,53.32 466.51,52.78 467.27,52.23 468.03,51.69 468.79,51.15 469.55,50.60 470.32,50.05 471.08,49.51 471.84,48.96 472.60,48.41 473.37,47.87 474.13,47.32 474.89,46.77 475.65,46.22 476.42,45.68 477.18,45.13 477.94,44.58 478.70,44.03 479.46,43.48 480.23,42.93 480.99,42.38 481.75,41.84 482.51,41.29 483.28,40.74 484.04,40.19 484.80,39.64 485.56,39.09 486.32,38.54 487.09,37.99 487.85,37.44 488.61,36.89 489.37,36.34 490.14,35.80 490.90,35.25 491.66,34.70 492.42,34.15 493.18,33.60 493.95,33.05 494.71,32.50 495.47,31.95 496.23,31.40 497.00,30.85 497.76,30.30 498.52,29.75 499.28,29.21 500.05,28.66 500.81,28.11 501.57,27.56 502.33,27.01 503.09,26.46 503.86,25.91 504.62,25.36 505.38,24.81 506.14,24.26 506.91,23.71 507.67,23.16 508.43,22.61 509.19,22.07 509.95,21.52 510.72,20.97 511.48,20.42 512.24,19.87 513.00,19.32 513.77,18.77 514.53,18.22 515.29,17.67 516.05,17.12 516.82,16.57 517.58,16.02 518.34,15.48 519.10,14.93 519.86,14.38 520.63,13.83 521.39,13.28 522.15,12.73 522.91,12.18 523.68,11.63 524.44,11.08 525.20,10.53" fill="none" stroke="#f6d4e6" stroke-width="2.2" stroke-linejoin="round" stroke-linecap="round" />
<line x1="325.80" y1="154.20" x2="525.6" y2="10.24" stroke="#e0207e" stroke-width="2.0" stroke-linecap="round"/>
<g opacity="0.88">
<polyline points="404.00,74.00 404.76,73.92 405.52,73.84 406.29,73.76 407.05,73.67 407.81,73.59 408.57,73.50 409.34,73.40 410.10,73.31 410.86,73.21 411.62,73.11 412.38,73.01 413.15,72.90 413.91,72.79 414.67,72.68 415.43,72.57 416.20,72.45 416.96,72.33 417.72,72.21 418.48,72.09 419.25,71.96 420.01,71.83 420.77,71.70 421.53,71.57 422.29,71.43 423.06,71.29 423.82,71.14 424.58,71.00 425.34,70.85 426.11,70.70 426.87,70.54 427.63,70.38 428.39,70.22 429.15,70.06 429.92,69.89 430.68,69.71 431.44,69.53 432.20,69.35 432.97,69.16 433.73,68.97 434.49,68.77 435.25,68.56 436.02,68.35 436.78,68.13 437.54,67.90 438.30,67.66 439.06,67.41 439.83,67.16 440.59,66.88 441.35,66.60 442.11,66.30 442.88,65.99 443.64,65.67 444.40,65.33 445.16,64.98 445.92,64.61 446.69,64.22 447.45,63.82 448.21,63.41 448.97,62.98 449.74,62.55 450.50,62.10 451.26,61.64 452.02,61.17 452.78,60.69 453.55,60.20 454.31,59.70 455.07,59.20 455.83,58.70 456.60,58.18 457.36,57.67 458.12,57.15 458.88,56.63 459.65,56.10 460.41,55.57 461.17,55.04 461.93,54.51 462.69,53.97 463.46,53.44 464.22,52.90 464.98,52.36 465.74,51.82 466.51,51.28 467.27,50.74 468.03,50.20 468.79,49.66 469.55,49.12 470.32,48.57 471.08,48.03 471.84,47.49 472.60,46.94 473.37,46.40 474.13,45.86 474.89,45.31 475.65,44.77 476.42,44.22 477.18,43.68 477.94,43.14 478.70,42.59 479.46,42.05 480.23,41.50 480.99,40.96 481.75,40.41 482.51,39.87 483.28,39.32 484.04,38.78 484.80,38.23 485.56,37.69 486.32,37.14 487.09,36.60 487.85,36.05 488.61,35.51 489.37,34.96 490.14,34.42 490.90,33.87 491.66,33.32 492.42,32.78 493.18,32.23 493.95,31.69 494.71,31.14 495.47,30.60 496.23,30.05 497.00,29.51 497.76,28.96 498.52,28.42 499.28,27.87 500.05,27.33 500.81,26.78 501.57,26.24 502.33,25.69 503.09,25.15 503.86,24.60 504.62,24.05 505.38,23.51 506.14,22.96 506.91,22.42 507.67,21.87 508.43,21.33 509.19,20.78 509.95,20.24 510.72,19.69 511.48,19.15 512.24,18.60 513.00,18.06 513.77,17.51 514.53,16.97 515.29,16.42 516.05,15.88 516.82,15.33 517.58,14.78 518.34,14.24 519.10,13.69 519.86,13.15 520.63,12.60 521.39,12.06 522.15,11.51 522.91,10.97 523.68,10.42 524.44,9.88 525.20,9.33" fill="none" stroke="#8888ea" stroke-width="5.6" stroke-linejoin="round" stroke-linecap="round" />
<polyline points="404.00,74.00 404.76,73.92 405.52,73.84 406.29,73.76 407.05,73.67 407.81,73.59 408.57,73.50 409.34,73.40 410.10,73.31 410.86,73.21 411.62,73.11 412.38,73.01 413.15,72.90 413.91,72.79 414.67,72.68 415.43,72.57 416.20,72.45 416.96,72.33 417.72,72.21 418.48,72.09 419.25,71.96 420.01,71.83 420.77,71.70 421.53,71.57 422.29,71.43 423.06,71.29 423.82,71.14 424.58,71.00 425.34,70.85 426.11,70.70 426.87,70.54 427.63,70.38 428.39,70.22 429.15,70.06 429.92,69.89 430.68,69.71 431.44,69.53 432.20,69.35 432.97,69.16 433.73,68.97 434.49,68.77 435.25,68.56 436.02,68.35 436.78,68.13 437.54,67.90 438.30,67.66 439.06,67.41 439.83,67.16 440.59,66.88 441.35,66.60 442.11,66.30 442.88,65.99 443.64,65.67 444.40,65.33 445.16,64.98 445.92,64.61 446.69,64.22 447.45,63.82 448.21,63.41 448.97,62.98 449.74,62.55 450.50,62.10 451.26,61.64 452.02,61.17 452.78,60.69 453.55,60.20 454.31,59.70 455.07,59.20 455.83,58.70 456.60,58.18 457.36,57.67 458.12,57.15 458.88,56.63 459.65,56.10 460.41,55.57 461.17,55.04 461.93,54.51 462.69,53.97 463.46,53.44 464.22,52.90 464.98,52.36 465.74,51.82 466.51,51.28 467.27,50.74 468.03,50.20 468.79,49.66 469.55,49.12 470.32,48.57 471.08,48.03 471.84,47.49 472.60,46.94 473.37,46.40 474.13,45.86 474.89,45.31 475.65,44.77 476.42,44.22 477.18,43.68 477.94,43.14 478.70,42.59 479.46,42.05 480.23,41.50 480.99,40.96 481.75,40.41 482.51,39.87 483.28,39.32 484.04,38.78 484.80,38.23 485.56,37.69 486.32,37.14 487.09,36.60 487.85,36.05 488.61,35.51 489.37,34.96 490.14,34.42 490.90,33.87 491.66,33.32 492.42,32.78 493.18,32.23 493.95,31.69 494.71,31.14 495.47,30.60 496.23,30.05 497.00,29.51 497.76,28.96 498.52,28.42 499.28,27.87 500.05,27.33 500.81,26.78 501.57,26.24 502.33,25.69 503.09,25.15 503.86,24.60 504.62,24.05 505.38,23.51 506.14,22.96 506.91,22.42 507.67,21.87 508.43,21.33 509.19,20.78 509.95,20.24 510.72,19.69 511.48,19.15 512.24,18.60 513.00,18.06 513.77,17.51 514.53,16.97 515.29,16.42 516.05,15.88 516.82,15.33 517.58,14.78 518.34,14.24 519.10,13.69 519.86,13.15 520.63,12.60 521.39,12.06 522.15,11.51 522.91,10.97 523.68,10.42 524.44,9.88 525.20,9.33" fill="none" stroke="#d0d0f8" stroke-width="2.6" stroke-linejoin="round" stroke-linecap="round" />
</g>
<line x1="322.70" y1="154.20" x2="525.6" y2="9.05" stroke="#1414f0" stroke-width="2.0" stroke-linecap="round"/>
</g>
<rect x="319.6" y="6.6" width="207.69999999999993" height="147.6" fill="none" stroke="#555" stroke-width="1.15"/>
<line x1="326.60" y1="154.20" x2="326.60" y2="151.00" stroke="#555" stroke-width="1" />
<line x1="326.60" y1="6.60" x2="326.60" y2="9.80" stroke="#555" stroke-width="1" />
<line x1="364.90" y1="154.20" x2="364.90" y2="152.20" stroke="#555" stroke-width="1" />
<line x1="364.90" y1="6.60" x2="364.90" y2="8.60" stroke="#555" stroke-width="1" />
<line x1="403.20" y1="154.20" x2="403.20" y2="151.00" stroke="#555" stroke-width="1" />
<line x1="403.20" y1="6.60" x2="403.20" y2="9.80" stroke="#555" stroke-width="1" />
<line x1="441.50" y1="154.20" x2="441.50" y2="152.20" stroke="#555" stroke-width="1" />
<line x1="441.50" y1="6.60" x2="441.50" y2="8.60" stroke="#555" stroke-width="1" />
<line x1="479.80" y1="154.20" x2="479.80" y2="151.00" stroke="#555" stroke-width="1" />
<line x1="479.80" y1="6.60" x2="479.80" y2="9.80" stroke="#555" stroke-width="1" />
<line x1="518.10" y1="154.20" x2="518.10" y2="152.20" stroke="#555" stroke-width="1" />
<line x1="518.10" y1="6.60" x2="518.10" y2="8.60" stroke="#555" stroke-width="1" />
<line x1="319.60" y1="154.20" x2="322.80" y2="154.20" stroke="#555" stroke-width="1" />
<line x1="527.30" y1="154.20" x2="524.10" y2="154.20" stroke="#555" stroke-width="1" />
<line x1="319.60" y1="122.10" x2="321.60" y2="122.10" stroke="#555" stroke-width="1" />
<line x1="527.30" y1="122.10" x2="525.30" y2="122.10" stroke="#555" stroke-width="1" />
<line x1="319.60" y1="90.00" x2="322.80" y2="90.00" stroke="#555" stroke-width="1" />
<line x1="527.30" y1="90.00" x2="524.10" y2="90.00" stroke="#555" stroke-width="1" />
<line x1="319.60" y1="57.90" x2="321.60" y2="57.90" stroke="#555" stroke-width="1" />
<line x1="527.30" y1="57.90" x2="525.30" y2="57.90" stroke="#555" stroke-width="1" />
<line x1="319.60" y1="25.80" x2="322.80" y2="25.80" stroke="#555" stroke-width="1" />
<line x1="527.30" y1="25.80" x2="524.10" y2="25.80" stroke="#555" stroke-width="1" />
<text x="326.60" y="168.90" font-size="13.5" fill="#000" text-anchor="middle"  stroke="#000" stroke-width="0.22">-200</text>
<text x="403.20" y="168.90" font-size="13.5" fill="#000" text-anchor="middle"  stroke="#000" stroke-width="0.22">0</text>
<text x="479.80" y="168.90" font-size="13.5" fill="#000" text-anchor="middle"  stroke="#000" stroke-width="0.22">200</text>
<text x="315.80" y="158.90" font-size="13.5" fill="#000" text-anchor="end"  stroke="#000" stroke-width="0.22">0</text>
<text x="315.80" y="94.70" font-size="13.5" fill="#000" text-anchor="end"  stroke="#000" stroke-width="0.22">10</text>
<text x="315.80" y="30.50" font-size="13.5" fill="#000" text-anchor="end"  stroke="#000" stroke-width="0.22">20</text>
<text x="408.3" y="182.6" font-size="15.2" fill="#000" stroke="#000" stroke-width="0.22"><tspan font-style="italic">T</tspan> (K)</text>
<text transform="translate(296.8,123.4) rotate(-90)" font-size="13.8" textLength="89" lengthAdjust="spacingAndGlyphs" fill="#000" stroke="#000" stroke-width="0.22"><tspan font-family="Liberation Serif" font-style="italic" font-size="15">χ</tspan><tspan font-size="9.5" dy="-5.5">-1</tspan><tspan dy="5.5"> (molcm</tspan><tspan font-size="9.5" dy="-5.5">-3</tspan><tspan dy="5.5">)</tspan></text>
<text x="328.30" y="29.90" font-size="21.4" fill="#000" text-anchor="start"  stroke="#000" stroke-width="0.22">(c)</text>
<rect x="332.4" y="42.2" width="3.6" height="3.6" fill="none" stroke="#e070a8" stroke-width="0.9"/>
<circle cx="334.2" cy="60.5" r="2.0" fill="none" stroke="#9a9ae8" stroke-width="0.9"/>
<text x="351.6" y="48.0" font-size="12.1" fill="#111" stroke="#111" stroke-width="0.22"><tspan font-family="Liberation Serif" font-size="13.6">α</tspan>-CrOOD</text>
<text x="351.6" y="64.8" font-size="12.1" fill="#111" stroke="#111" stroke-width="0.22"><tspan font-family="Liberation Serif" font-size="13.6">α</tspan>-CrOOH</text>
<text x="383.3" y="126.7" font-size="12.2" fill="#2a2ad8" stroke="#2a2ad8" stroke-width="0.22"><tspan font-family="Liberation Serif" font-style="italic" font-size="13.5">θ</tspan><tspan font-size="8.5" dy="3">cw</tspan><tspan dy="-3">(H) = -211.6(5) K</tspan></text>
<text x="383.3" y="145.4" font-size="12.2" fill="#d42a88" stroke="#d42a88" stroke-width="0.22"><tspan font-family="Liberation Serif" font-style="italic" font-size="13.5">θ</tspan><tspan font-size="8.5" dy="3">cw</tspan><tspan dy="-3">(D) = -202.0(5) K</tspan></text>
<line x1="369.80" y1="141.00" x2="332.30" y2="152.80" stroke="#000" stroke-width="0.9" />
<polyline points="336.47,149.39 332.30,152.80 337.67,153.21" fill="none" stroke="#000" stroke-width="0.9"/>
<clipPath id="clipd2"><rect x="49.4" y="197.6" width="209.1" height="148.6"/></clipPath>
<g clip-path="url(#clipd2)">
<line x1="140.00" y1="197.60" x2="140.00" y2="346.20" stroke="#8a8a8a" stroke-width="1.6" stroke-dasharray="4.5 3"/>
<polyline points="49.40,285.63 49.70,285.63 50.00,285.63 50.30,285.62 50.60,285.62 50.90,285.62 51.19,285.61 51.49,285.61 51.79,285.61 52.09,285.60 52.39,285.60 52.69,285.59 52.99,285.59 53.29,285.59 53.59,285.58 53.89,285.58 54.19,285.58 54.49,285.57 54.78,285.57 55.08,285.56 55.38,285.56 55.68,285.56 55.98,285.55 56.28,285.55 56.58,285.54 56.88,285.54 57.18,285.54 57.48,285.53 57.78,285.53 58.08,285.52 58.37,285.52 58.67,285.51 58.97,285.51 59.27,285.50 59.57,285.50 59.87,285.49 60.17,285.49 60.47,285.48 60.77,285.48 61.07,285.47 61.37,285.47 61.66,285.46 61.96,285.46 62.26,285.45 62.56,285.45 62.86,285.44 63.16,285.44 63.46,285.43 63.76,285.42 64.06,285.42 64.36,285.41 64.66,285.41 64.96,285.40 65.25,285.39 65.55,285.39 65.85,285.38 66.15,285.37 66.45,285.37 66.75,285.36 67.05,285.35 67.35,285.35 67.65,285.34 67.95,285.33 68.25,285.33 68.55,285.32 68.84,285.31 69.14,285.30 69.44,285.30 69.74,285.29 70.04,285.28 70.34,285.27 70.64,285.26 70.94,285.26 71.24,285.25 71.54,285.24 71.84,285.23 72.13,285.22 72.43,285.21 72.73,285.20 73.03,285.19 73.33,285.18 73.63,285.18 73.93,285.17 74.23,285.16 74.53,285.15 74.83,285.14 75.13,285.13 75.43,285.11 75.72,285.10 76.02,285.09 76.32,285.08 76.62,285.07 76.92,285.06 77.22,285.05 77.52,285.04 77.82,285.02 78.12,285.01 78.42,285.00 78.72,284.99 79.02,284.97 79.31,284.96 79.61,284.95 79.91,284.93 80.21,284.92 80.51,284.91 80.81,284.89 81.11,284.88 81.41,284.86 81.71,284.85 82.01,284.83 82.31,284.82 82.60,284.80 82.90,284.78 83.20,284.77 83.50,284.75 83.80,284.73 84.10,284.72 84.40,284.70 84.70,284.68 85.00,284.66 85.30,284.64 85.60,284.62 85.90,284.60 86.19,284.58 86.49,284.56 86.79,284.54 87.09,284.52 87.39,284.50 87.69,284.48 87.99,284.46 88.29,284.43 88.59,284.41 88.89,284.39 89.19,284.36 89.48,284.34 89.78,284.31 90.08,284.29 90.38,284.26 90.68,284.23 90.98,284.20 91.28,284.18 91.58,284.15 91.88,284.12 92.18,284.09 92.48,284.06 92.78,284.03 93.07,283.99 93.37,283.96 93.67,283.93 93.97,283.89 94.27,283.86 94.57,283.82 94.87,283.79 95.17,283.75 95.47,283.71 95.77,283.67 96.07,283.63 96.37,283.59 96.66,283.55 96.96,283.50 97.26,283.46 97.56,283.41 97.86,283.37 98.16,283.32 98.46,283.27 98.76,283.22 99.06,283.17 99.36,283.12 99.66,283.06 99.95,283.01 100.25,282.95 100.55,282.89 100.85,282.83 101.15,282.77 101.45,282.71 101.75,282.65 102.05,282.58 102.35,282.51 102.65,282.44 102.95,282.37 103.25,282.30 103.54,282.22 103.84,282.14 104.14,282.06 104.44,281.98 104.74,281.89 105.04,281.81 105.34,281.72 105.64,281.63 105.94,281.53 106.24,281.43 106.54,281.33 106.84,281.23 107.13,281.12 107.43,281.01 107.73,280.90 108.03,280.78 108.33,280.66 108.63,280.54 108.93,280.41 109.23,280.28 109.53,280.14 109.83,280.00 110.13,279.86 110.42,279.71 110.72,279.55 111.02,279.39 111.32,279.23 111.62,279.06 111.92,278.88 112.22,278.70 112.52,278.51 112.82,278.31 113.12,278.11 113.42,277.90 113.72,277.69 114.01,277.46 114.31,277.23 114.61,276.99 114.91,276.74 115.21,276.48 115.51,276.22 115.81,275.94 116.11,275.65 116.41,275.35 116.71,275.04 117.01,274.72 117.31,274.39 117.60,274.04 117.90,273.68 118.20,273.31 118.50,272.92 118.80,272.52 119.10,272.10 119.40,271.66 119.70,271.21 120.00,270.74 120.30,270.25 120.60,269.74 120.89,269.21 121.19,268.66 121.49,268.09 121.79,267.49 122.09,266.87 122.39,266.22 122.69,265.55 122.99,264.85 123.29,264.12 123.59,263.37 123.89,262.58 124.19,261.76 124.48,260.91 124.78,260.03 125.08,259.11 125.38,258.16 125.68,257.17 125.98,256.15 126.28,255.09 126.58,254.00 126.88,252.87 127.18,251.71 127.48,250.51 127.78,249.28 128.07,248.01 128.37,246.72 128.67,245.40 128.97,244.06 129.27,242.70 129.57,241.34 129.87,239.96 130.17,238.60 130.47,237.24 130.77,235.92 131.07,234.63 131.36,233.40 131.66,232.24 131.96,231.17 132.26,230.21 132.56,229.39 132.86,228.74 133.16,228.27 133.46,228.03 133.76,228.04 134.06,228.33 134.36,228.94 134.66,229.89 134.95,231.22 135.25,232.95 135.55,235.11 135.85,237.70 136.15,240.74 136.45,244.22 136.75,248.15 137.05,252.49 137.35,257.22 137.65,262.29 137.95,267.66 138.25,273.26 138.54,279.03 138.84,284.89 139.14,290.57 139.44,296.15 139.74,301.59 140.04,306.81 140.34,311.75 140.64,316.36 140.94,320.58 141.24,324.41 141.54,327.80 141.83,330.76 142.13,333.29 142.43,335.40 142.73,337.10 143.03,338.42 143.33,339.39 143.63,340.04 143.93,340.40 144.23,340.50 144.53,340.37 144.83,340.04 145.13,339.54 145.42,338.89 145.72,338.12 146.02,337.25 146.32,336.30 146.62,335.29 146.92,334.23 147.22,333.13 147.52,332.01 147.82,330.87 148.12,329.73 148.42,328.59 148.72,327.45 149.01,326.33 149.31,325.22 149.61,324.13 149.91,323.06 150.21,322.02 150.51,321.00 150.81,320.00 151.11,319.03 151.41,318.09 151.71,317.18 152.01,316.29 152.30,315.44 152.60,314.61 152.90,313.80 153.20,313.02 153.50,312.27 153.80,311.54 154.10,310.84 154.40,310.16 154.70,309.51 155.00,308.87 155.30,308.26 155.60,307.67 155.89,307.10 156.19,306.55 156.49,306.01 156.79,305.50 157.09,305.00 157.39,304.52 157.69,304.06 157.99,303.61 158.29,303.17 158.59,302.75 158.89,302.35 159.18,301.96 159.48,301.58 159.78,301.21 160.08,300.85 160.38,300.51 160.68,300.18 160.98,299.85 161.28,299.54 161.58,299.24 161.88,298.95 162.18,298.66 162.48,298.39 162.77,298.12 163.07,297.86 163.37,297.61 163.67,297.37 163.97,297.13 164.27,296.90 164.57,296.68 164.87,296.46 165.17,296.25 165.47,296.05 165.77,295.85 166.07,295.66 166.36,295.47 166.66,295.29 166.96,295.11 167.26,294.94 167.56,294.77 167.86,294.61 168.16,294.45 168.46,294.29 168.76,294.14 169.06,293.99 169.36,293.85 169.65,293.71 169.95,293.58 170.25,293.44 170.55,293.32 170.85,293.19 171.15,293.07 171.45,292.95 171.75,292.83 172.05,292.72 172.35,292.61 172.65,292.50 172.95,292.39 173.24,292.29 173.54,292.19 173.84,292.09 174.14,291.99 174.44,291.90 174.74,291.81 175.04,291.72 175.34,291.63 175.64,291.54 175.94,291.46 176.24,291.38 176.54,291.30 176.83,291.22 177.13,291.14 177.43,291.07 177.73,290.99 178.03,290.92 178.33,290.85 178.63,290.78 178.93,290.71 179.23,290.65 179.53,290.58 179.83,290.52 180.12,290.46 180.42,290.40 180.72,290.34 181.02,290.28 181.32,290.22 181.62,290.16 181.92,290.11 182.22,290.06 182.52,290.00 182.82,289.95 183.12,289.90 183.42,289.85 183.71,289.80 184.01,289.75 184.31,289.70 184.61,289.66 184.91,289.61 185.21,289.57 185.51,289.52 185.81,289.48 186.11,289.44 186.41,289.40 186.71,289.36 187.01,289.32 187.30,289.28 187.60,289.24 187.90,289.20 188.20,289.16 188.50,289.13 188.80,289.09 189.10,289.05 189.40,289.02 189.70,288.98 190.00,288.95 190.30,288.92 190.59,288.89 190.89,288.85 191.19,288.82 191.49,288.79 191.79,288.76 192.09,288.73 192.39,288.70 192.69,288.67 192.99,288.64 193.29,288.61 193.59,288.59 193.89,288.56 194.18,288.53 194.48,288.51 194.78,288.48 195.08,288.45 195.38,288.43 195.68,288.40 195.98,288.38 196.28,288.36 196.58,288.33 196.88,288.31 197.18,288.29 197.48,288.26 197.77,288.24 198.07,288.22 198.37,288.20 198.67,288.18 198.97,288.15 199.27,288.13 199.57,288.11 199.87,288.09 200.17,288.07 200.47,288.05 200.77,288.03 201.06,288.01 201.36,288.00 201.66,287.98 201.96,287.96 202.26,287.94 202.56,287.92 202.86,287.91 203.16,287.89 203.46,287.87 203.76,287.85 204.06,287.84 204.36,287.82 204.65,287.80 204.95,287.79 205.25,287.77 205.55,287.76 205.85,287.74 206.15,287.73 206.45,287.71 206.75,287.70 207.05,287.68 207.35,287.67 207.65,287.65 207.95,287.64 208.24,287.63 208.54,287.61 208.84,287.60 209.14,287.59 209.44,287.57 209.74,287.56 210.04,287.55 210.34,287.53 210.64,287.52 210.94,287.51 211.24,287.50 211.53,287.48 211.83,287.47 212.13,287.46 212.43,287.45 212.73,287.44 213.03,287.43 213.33,287.41 213.63,287.40 213.93,287.39 214.23,287.38 214.53,287.37 214.83,287.36 215.12,287.35 215.42,287.34 215.72,287.33 216.02,287.32 216.32,287.31 216.62,287.30 216.92,287.29 217.22,287.28 217.52,287.27 217.82,287.26 218.12,287.25 218.42,287.24 218.71,287.23 219.01,287.22 219.31,287.21 219.61,287.21 219.91,287.20 220.21,287.19 220.51,287.18 220.81,287.17 221.11,287.16 221.41,287.15 221.71,287.15 222.00,287.14 222.30,287.13 222.60,287.12 222.90,287.11 223.20,287.11 223.50,287.10 223.80,287.09 224.10,287.08 224.40,287.08 224.70,287.07 225.00,287.06 225.30,287.05 225.59,287.05 225.89,287.04 226.19,287.03 226.49,287.03 226.79,287.02 227.09,287.01 227.39,287.01 227.69,287.00 227.99,286.99 228.29,286.99 228.59,286.98 228.88,286.97 229.18,286.97 229.48,286.96 229.78,286.95 230.08,286.95 230.38,286.94 230.68,286.93 230.98,286.93 231.28,286.92 231.58,286.92 231.88,286.91 232.18,286.91 232.47,286.90 232.77,286.89 233.07,286.89 233.37,286.88 233.67,286.88 233.97,286.87 234.27,286.87 234.57,286.86 234.87,286.86 235.17,286.85 235.47,286.85 235.77,286.84 236.06,286.84 236.36,286.83 236.66,286.83 236.96,286.82 237.26,286.82 237.56,286.81 237.86,286.81 238.16,286.80 238.46,286.80 238.76,286.79 239.06,286.79 239.35,286.78 239.65,286.78 239.95,286.77 240.25,286.77 240.55,286.76 240.85,286.76 241.15,286.75 241.45,286.75 241.75,286.75 242.05,286.74 242.35,286.74 242.65,286.73 242.94,286.73 243.24,286.73 243.54,286.72 243.84,286.72 244.14,286.71 244.44,286.71 244.74,286.70 245.04,286.70 245.34,286.70 245.64,286.69 245.94,286.69 246.24,286.69 246.53,286.68 246.83,286.68 247.13,286.67 247.43,286.67 247.73,286.67 248.03,286.66 248.33,286.66 248.63,286.66 248.93,286.65 249.23,286.65 249.53,286.65 249.82,286.64 250.12,286.64 250.42,286.64 250.72,286.63 251.02,286.63 251.32,286.63 251.62,286.62 251.92,286.62 252.22,286.62 252.52,286.61 252.82,286.61 253.12,286.61 253.41,286.60 253.71,286.60 254.01,286.60 254.31,286.59 254.61,286.59 254.91,286.59 255.21,286.58 255.51,286.58 255.81,286.58 256.11,286.58 256.41,286.57 256.71,286.57 257.00,286.57 257.30,286.56 257.60,286.56 257.90,286.56 258.20,286.56 258.50,286.55" fill="none" stroke="#6e6e6e" stroke-width="1.6" stroke-linejoin="round" stroke-linecap="round" />
<polyline points="49.40,284.47 49.70,284.45 50.00,284.44 50.30,284.43 50.60,284.42 50.90,284.40 51.19,284.39 51.49,284.38 51.79,284.36 52.09,284.35 52.39,284.34 52.69,284.32 52.99,284.31 53.29,284.29 53.59,284.28 53.89,284.26 54.19,284.25 54.49,284.24 54.78,284.22 55.08,284.20 55.38,284.19 55.68,284.17 55.98,284.16 56.28,284.14 56.58,284.13 56.88,284.11 57.18,284.09 57.48,284.08 57.78,284.06 58.08,284.04 58.37,284.02 58.67,284.01 58.97,283.99 59.27,283.97 59.57,283.95 59.87,283.93 60.17,283.91 60.47,283.89 60.77,283.88 61.07,283.86 61.37,283.84 61.66,283.82 61.96,283.80 62.26,283.78 62.56,283.75 62.86,283.73 63.16,283.71 63.46,283.69 63.76,283.67 64.06,283.65 64.36,283.62 64.66,283.60 64.96,283.58 65.25,283.55 65.55,283.53 65.85,283.51 66.15,283.48 66.45,283.46 66.75,283.43 67.05,283.41 67.35,283.38 67.65,283.35 67.95,283.33 68.25,283.30 68.55,283.27 68.84,283.25 69.14,283.22 69.44,283.19 69.74,283.16 70.04,283.13 70.34,283.10 70.64,283.07 70.94,283.04 71.24,283.01 71.54,282.98 71.84,282.95 72.13,282.92 72.43,282.88 72.73,282.85 73.03,282.82 73.33,282.78 73.63,282.75 73.93,282.71 74.23,282.68 74.53,282.64 74.83,282.60 75.13,282.57 75.43,282.53 75.72,282.49 76.02,282.45 76.32,282.41 76.62,282.37 76.92,282.33 77.22,282.29 77.52,282.25 77.82,282.20 78.12,282.16 78.42,282.11 78.72,282.07 79.02,282.02 79.31,281.98 79.61,281.93 79.91,281.88 80.21,281.83 80.51,281.78 80.81,281.73 81.11,281.68 81.41,281.63 81.71,281.58 82.01,281.53 82.31,281.47 82.60,281.42 82.90,281.36 83.20,281.30 83.50,281.24 83.80,281.18 84.10,281.12 84.40,281.06 84.70,281.00 85.00,280.94 85.30,280.87 85.60,280.81 85.90,280.74 86.19,280.67 86.49,280.60 86.79,280.53 87.09,280.46 87.39,280.39 87.69,280.31 87.99,280.24 88.29,280.16 88.59,280.08 88.89,280.00 89.19,279.92 89.48,279.84 89.78,279.76 90.08,279.67 90.38,279.58 90.68,279.49 90.98,279.40 91.28,279.31 91.58,279.22 91.88,279.12 92.18,279.02 92.48,278.92 92.78,278.82 93.07,278.72 93.37,278.61 93.67,278.51 93.97,278.40 94.27,278.29 94.57,278.17 94.87,278.06 95.17,277.94 95.47,277.82 95.77,277.69 96.07,277.57 96.37,277.44 96.66,277.31 96.96,277.18 97.26,277.04 97.56,276.90 97.86,276.76 98.16,276.61 98.46,276.47 98.76,276.31 99.06,276.16 99.36,276.00 99.66,275.84 99.95,275.68 100.25,275.51 100.55,275.34 100.85,275.16 101.15,274.99 101.45,274.80 101.75,274.62 102.05,274.43 102.35,274.23 102.65,274.03 102.95,273.83 103.25,273.62 103.54,273.41 103.84,273.19 104.14,272.97 104.44,272.74 104.74,272.51 105.04,272.28 105.34,272.03 105.64,271.78 105.94,271.53 106.24,271.27 106.54,271.01 106.84,270.73 107.13,270.46 107.43,270.17 107.73,269.88 108.03,269.59 108.33,269.28 108.63,268.97 108.93,268.65 109.23,268.33 109.53,267.99 109.83,267.65 110.13,267.30 110.42,266.95 110.72,266.58 111.02,266.21 111.32,265.83 111.62,265.44 111.92,265.04 112.22,264.63 112.52,264.21 112.82,263.78 113.12,263.34 113.42,262.89 113.72,262.44 114.01,261.97 114.31,261.49 114.61,261.00 114.91,260.50 115.21,259.99 115.51,259.47 115.81,258.93 116.11,258.39 116.41,257.83 116.71,257.27 117.01,256.69 117.31,256.10 117.60,255.49 117.90,254.88 118.20,254.25 118.50,253.62 118.80,252.97 119.10,252.31 119.40,251.64 119.70,250.96 120.00,250.27 120.30,249.56 120.60,248.85 120.89,248.13 121.19,247.40 121.49,246.67 121.79,245.92 122.09,245.18 122.39,244.42 122.69,243.66 122.99,242.90 123.29,242.14 123.59,241.38 123.89,240.62 124.19,239.87 124.48,239.12 124.78,238.38 125.08,237.65 125.38,236.93 125.68,236.23 125.98,235.55 126.28,234.90 126.58,234.27 126.88,233.67 127.18,233.10 127.48,232.58 127.78,232.10 128.07,231.67 128.37,231.29 128.67,230.97 128.97,230.71 129.27,230.53 129.57,230.43 129.87,230.40 130.17,230.47 130.47,230.63 130.77,230.89 131.07,231.26 131.36,231.75 131.66,232.36 131.96,233.09 132.26,233.95 132.56,234.95 132.86,236.08 133.16,237.36 133.46,238.79 133.76,240.37 134.06,242.09 134.36,243.97 134.66,245.99 134.95,248.16 135.25,250.47 135.55,252.93 135.85,255.51 136.15,258.22 136.45,261.05 136.75,263.98 137.05,267.01 137.35,270.12 137.65,273.31 137.95,276.55 138.25,279.84 138.54,283.15 138.84,286.49 139.14,289.86 139.44,293.21 139.74,296.53 140.04,299.79 140.34,302.98 140.64,306.10 140.94,309.11 141.24,312.02 141.54,314.81 141.83,317.47 142.13,320.00 142.43,322.38 142.73,324.61 143.03,326.70 143.33,328.63 143.63,330.41 143.93,332.03 144.23,333.50 144.53,334.83 144.83,336.01 145.13,337.05 145.42,337.95 145.72,338.72 146.02,339.37 146.32,339.90 146.62,340.32 146.92,340.63 147.22,340.84 147.52,340.96 147.82,341.00 148.12,340.96 148.42,340.84 148.72,340.66 149.01,340.41 149.31,340.11 149.61,339.76 149.91,339.36 150.21,338.93 150.51,338.45 150.81,337.95 151.11,337.41 151.41,336.85 151.71,336.27 152.01,335.67 152.30,335.05 152.60,334.43 152.90,333.79 153.20,333.14 153.50,332.49 153.80,331.83 154.10,331.17 154.40,330.50 154.70,329.84 155.00,329.18 155.30,328.52 155.60,327.87 155.89,327.21 156.19,326.57 156.49,325.93 156.79,325.29 157.09,324.67 157.39,324.05 157.69,323.43 157.99,322.83 158.29,322.23 158.59,321.65 158.89,321.07 159.18,320.50 159.48,319.94 159.78,319.39 160.08,318.84 160.38,318.31 160.68,317.79 160.98,317.27 161.28,316.77 161.58,316.27 161.88,315.78 162.18,315.31 162.48,314.84 162.77,314.38 163.07,313.93 163.37,313.48 163.67,313.05 163.97,312.62 164.27,312.20 164.57,311.80 164.87,311.39 165.17,311.00 165.47,310.61 165.77,310.24 166.07,309.86 166.36,309.50 166.66,309.14 166.96,308.80 167.26,308.45 167.56,308.12 167.86,307.79 168.16,307.47 168.46,307.15 168.76,306.84 169.06,306.53 169.36,306.24 169.65,305.94 169.95,305.66 170.25,305.38 170.55,305.10 170.85,304.83 171.15,304.57 171.45,304.31 171.75,304.05 172.05,303.80 172.35,303.56 172.65,303.32 172.95,303.08 173.24,302.85 173.54,302.62 173.84,302.40 174.14,302.18 174.44,301.97 174.74,301.75 175.04,301.55 175.34,301.35 175.64,301.15 175.94,300.95 176.24,300.76 176.54,300.57 176.83,300.38 177.13,300.20 177.43,300.02 177.73,299.85 178.03,299.68 178.33,299.51 178.63,299.34 178.93,299.18 179.23,299.02 179.53,298.86 179.83,298.71 180.12,298.55 180.42,298.40 180.72,298.26 181.02,298.11 181.32,297.97 181.62,297.83 181.92,297.69 182.22,297.56 182.52,297.43 182.82,297.29 183.12,297.17 183.42,297.04 183.71,296.92 184.01,296.79 184.31,296.67 184.61,296.56 184.91,296.44 185.21,296.32 185.51,296.21 185.81,296.10 186.11,295.99 186.41,295.88 186.71,295.78 187.01,295.67 187.30,295.57 187.60,295.47 187.90,295.37 188.20,295.27 188.50,295.18 188.80,295.08 189.10,294.99 189.40,294.90 189.70,294.81 190.00,294.72 190.30,294.63 190.59,294.54 190.89,294.46 191.19,294.37 191.49,294.29 191.79,294.21 192.09,294.13 192.39,294.05 192.69,293.97 192.99,293.89 193.29,293.82 193.59,293.74 193.89,293.67 194.18,293.60 194.48,293.53 194.78,293.45 195.08,293.38 195.38,293.32 195.68,293.25 195.98,293.18 196.28,293.11 196.58,293.05 196.88,292.99 197.18,292.92 197.48,292.86 197.77,292.80 198.07,292.74 198.37,292.68 198.67,292.62 198.97,292.56 199.27,292.50 199.57,292.44 199.87,292.39 200.17,292.33 200.47,292.28 200.77,292.22 201.06,292.17 201.36,292.12 201.66,292.07 201.96,292.01 202.26,291.96 202.56,291.91 202.86,291.86 203.16,291.82 203.46,291.77 203.76,291.72 204.06,291.67 204.36,291.63 204.65,291.58 204.95,291.53 205.25,291.49 205.55,291.45 205.85,291.40 206.15,291.36 206.45,291.32 206.75,291.27 207.05,291.23 207.35,291.19 207.65,291.15 207.95,291.11 208.24,291.07 208.54,291.03 208.84,290.99 209.14,290.95 209.44,290.92 209.74,290.88 210.04,290.84 210.34,290.80 210.64,290.77 210.94,290.73 211.24,290.70 211.53,290.66 211.83,290.63 212.13,290.59 212.43,290.56 212.73,290.53 213.03,290.49 213.33,290.46 213.63,290.43 213.93,290.39 214.23,290.36 214.53,290.33 214.83,290.30 215.12,290.27 215.42,290.24 215.72,290.21 216.02,290.18 216.32,290.15 216.62,290.12 216.92,290.09 217.22,290.06 217.52,290.04 217.82,290.01 218.12,289.98 218.42,289.95 218.71,289.93 219.01,289.90 219.31,289.87 219.61,289.85 219.91,289.82 220.21,289.79 220.51,289.77 220.81,289.74 221.11,289.72 221.41,289.69 221.71,289.67 222.00,289.65 222.30,289.62 222.60,289.60 222.90,289.57 223.20,289.55 223.50,289.53 223.80,289.51 224.10,289.48 224.40,289.46 224.70,289.44 225.00,289.42 225.30,289.39 225.59,289.37 225.89,289.35 226.19,289.33 226.49,289.31 226.79,289.29 227.09,289.27 227.39,289.25 227.69,289.23 227.99,289.21 228.29,289.19 228.59,289.17 228.88,289.15 229.18,289.13 229.48,289.11 229.78,289.09 230.08,289.07 230.38,289.06 230.68,289.04 230.98,289.02 231.28,289.00 231.58,288.98 231.88,288.96 232.18,288.95 232.47,288.93 232.77,288.91 233.07,288.90 233.37,288.88 233.67,288.86 233.97,288.85 234.27,288.83 234.57,288.81 234.87,288.80 235.17,288.78 235.47,288.76 235.77,288.75 236.06,288.73 236.36,288.72 236.66,288.70 236.96,288.69 237.26,288.67 237.56,288.66 237.86,288.64 238.16,288.63 238.46,288.61 238.76,288.60 239.06,288.58 239.35,288.57 239.65,288.56 239.95,288.54 240.25,288.53 240.55,288.51 240.85,288.50 241.15,288.49 241.45,288.47 241.75,288.46 242.05,288.45 242.35,288.43 242.65,288.42 242.94,288.41 243.24,288.39 243.54,288.38 243.84,288.37 244.14,288.36 244.44,288.34 244.74,288.33 245.04,288.32 245.34,288.31 245.64,288.30 245.94,288.28 246.24,288.27 246.53,288.26 246.83,288.25 247.13,288.24 247.43,288.23 247.73,288.21 248.03,288.20 248.33,288.19 248.63,288.18 248.93,288.17 249.23,288.16 249.53,288.15 249.82,288.14 250.12,288.13 250.42,288.12 250.72,288.11 251.02,288.09 251.32,288.08 251.62,288.07 251.92,288.06 252.22,288.05 252.52,288.04 252.82,288.03 253.12,288.02 253.41,288.01 253.71,288.00 254.01,287.99 254.31,287.98 254.61,287.98 254.91,287.97 255.21,287.96 255.51,287.95 255.81,287.94 256.11,287.93 256.41,287.92 256.71,287.91 257.00,287.90 257.30,287.89 257.60,287.88 257.90,287.87 258.20,287.87 258.50,287.86" fill="none" stroke="#2a2af0" stroke-width="3.6" stroke-linejoin="round" stroke-linecap="round" />
<polyline points="49.40,284.47 49.70,284.45 50.00,284.44 50.30,284.43 50.60,284.42 50.90,284.40 51.19,284.39 51.49,284.38 51.79,284.36 52.09,284.35 52.39,284.34 52.69,284.32 52.99,284.31 53.29,284.29 53.59,284.28 53.89,284.26 54.19,284.25 54.49,284.24 54.78,284.22 55.08,284.20 55.38,284.19 55.68,284.17 55.98,284.16 56.28,284.14 56.58,284.13 56.88,284.11 57.18,284.09 57.48,284.08 57.78,284.06 58.08,284.04 58.37,284.02 58.67,284.01 58.97,283.99 59.27,283.97 59.57,283.95 59.87,283.93 60.17,283.91 60.47,283.89 60.77,283.88 61.07,283.86 61.37,283.84 61.66,283.82 61.96,283.80 62.26,283.78 62.56,283.75 62.86,283.73 63.16,283.71 63.46,283.69 63.76,283.67 64.06,283.65 64.36,283.62 64.66,283.60 64.96,283.58 65.25,283.55 65.55,283.53 65.85,283.51 66.15,283.48 66.45,283.46 66.75,283.43 67.05,283.41 67.35,283.38 67.65,283.35 67.95,283.33 68.25,283.30 68.55,283.27 68.84,283.25 69.14,283.22 69.44,283.19 69.74,283.16 70.04,283.13 70.34,283.10 70.64,283.07 70.94,283.04 71.24,283.01 71.54,282.98 71.84,282.95 72.13,282.92 72.43,282.88 72.73,282.85 73.03,282.82 73.33,282.78 73.63,282.75 73.93,282.71 74.23,282.68 74.53,282.64 74.83,282.60 75.13,282.57 75.43,282.53 75.72,282.49 76.02,282.45 76.32,282.41 76.62,282.37 76.92,282.33 77.22,282.29 77.52,282.25 77.82,282.20 78.12,282.16 78.42,282.11 78.72,282.07 79.02,282.02 79.31,281.98 79.61,281.93 79.91,281.88 80.21,281.83 80.51,281.78 80.81,281.73 81.11,281.68 81.41,281.63 81.71,281.58 82.01,281.53 82.31,281.47 82.60,281.42 82.90,281.36 83.20,281.30 83.50,281.24 83.80,281.18 84.10,281.12 84.40,281.06 84.70,281.00 85.00,280.94 85.30,280.87 85.60,280.81 85.90,280.74 86.19,280.67 86.49,280.60 86.79,280.53 87.09,280.46 87.39,280.39 87.69,280.31 87.99,280.24 88.29,280.16 88.59,280.08 88.89,280.00 89.19,279.92 89.48,279.84 89.78,279.76 90.08,279.67 90.38,279.58 90.68,279.49 90.98,279.40 91.28,279.31 91.58,279.22 91.88,279.12 92.18,279.02 92.48,278.92 92.78,278.82 93.07,278.72 93.37,278.61 93.67,278.51 93.97,278.40 94.27,278.29 94.57,278.17 94.87,278.06 95.17,277.94 95.47,277.82 95.77,277.69 96.07,277.57 96.37,277.44 96.66,277.31 96.96,277.18 97.26,277.04 97.56,276.90 97.86,276.76 98.16,276.61 98.46,276.47 98.76,276.31 99.06,276.16 99.36,276.00 99.66,275.84 99.95,275.68 100.25,275.51 100.55,275.34 100.85,275.16 101.15,274.99 101.45,274.80 101.75,274.62 102.05,274.43 102.35,274.23 102.65,274.03 102.95,273.83 103.25,273.62 103.54,273.41 103.84,273.19 104.14,272.97 104.44,272.74 104.74,272.51 105.04,272.28 105.34,272.03 105.64,271.78 105.94,271.53 106.24,271.27 106.54,271.01 106.84,270.73 107.13,270.46 107.43,270.17 107.73,269.88 108.03,269.59 108.33,269.28 108.63,268.97 108.93,268.65 109.23,268.33 109.53,267.99 109.83,267.65 110.13,267.30 110.42,266.95 110.72,266.58 111.02,266.21 111.32,265.83 111.62,265.44 111.92,265.04 112.22,264.63 112.52,264.21 112.82,263.78 113.12,263.34 113.42,262.89 113.72,262.44 114.01,261.97 114.31,261.49 114.61,261.00 114.91,260.50 115.21,259.99 115.51,259.47 115.81,258.93 116.11,258.39 116.41,257.83 116.71,257.27 117.01,256.69 117.31,256.10 117.60,255.49 117.90,254.88 118.20,254.25 118.50,253.62 118.80,252.97 119.10,252.31 119.40,251.64 119.70,250.96 120.00,250.27 120.30,249.56 120.60,248.85 120.89,248.13 121.19,247.40 121.49,246.67 121.79,245.92 122.09,245.18 122.39,244.42 122.69,243.66 122.99,242.90 123.29,242.14 123.59,241.38 123.89,240.62 124.19,239.87 124.48,239.12 124.78,238.38 125.08,237.65 125.38,236.93 125.68,236.23 125.98,235.55 126.28,234.90 126.58,234.27 126.88,233.67 127.18,233.10 127.48,232.58 127.78,232.10 128.07,231.67 128.37,231.29 128.67,230.97 128.97,230.71 129.27,230.53 129.57,230.43 129.87,230.40 130.17,230.47 130.47,230.63 130.77,230.89 131.07,231.26 131.36,231.75 131.66,232.36 131.96,233.09 132.26,233.95 132.56,234.95 132.86,236.08 133.16,237.36 133.46,238.79 133.76,240.37 134.06,242.09 134.36,243.97 134.66,245.99 134.95,248.16 135.25,250.47 135.55,252.93 135.85,255.51 136.15,258.22 136.45,261.05 136.75,263.98 137.05,267.01 137.35,270.12 137.65,273.31 137.95,276.55 138.25,279.84 138.54,283.15 138.84,286.49 139.14,289.86 139.44,293.21 139.74,296.53 140.04,299.79 140.34,302.98 140.64,306.10 140.94,309.11 141.24,312.02 141.54,314.81 141.83,317.47 142.13,320.00 142.43,322.38 142.73,324.61 143.03,326.70 143.33,328.63 143.63,330.41 143.93,332.03 144.23,333.50 144.53,334.83 144.83,336.01 145.13,337.05 145.42,337.95 145.72,338.72 146.02,339.37 146.32,339.90 146.62,340.32 146.92,340.63 147.22,340.84 147.52,340.96 147.82,341.00 148.12,340.96 148.42,340.84 148.72,340.66 149.01,340.41 149.31,340.11 149.61,339.76 149.91,339.36 150.21,338.93 150.51,338.45 150.81,337.95 151.11,337.41 151.41,336.85 151.71,336.27 152.01,335.67 152.30,335.05 152.60,334.43 152.90,333.79 153.20,333.14 153.50,332.49 153.80,331.83 154.10,331.17 154.40,330.50 154.70,329.84 155.00,329.18 155.30,328.52 155.60,327.87 155.89,327.21 156.19,326.57 156.49,325.93 156.79,325.29 157.09,324.67 157.39,324.05 157.69,323.43 157.99,322.83 158.29,322.23 158.59,321.65 158.89,321.07 159.18,320.50 159.48,319.94 159.78,319.39 160.08,318.84 160.38,318.31 160.68,317.79 160.98,317.27 161.28,316.77 161.58,316.27 161.88,315.78 162.18,315.31 162.48,314.84 162.77,314.38 163.07,313.93 163.37,313.48 163.67,313.05 163.97,312.62 164.27,312.20 164.57,311.80 164.87,311.39 165.17,311.00 165.47,310.61 165.77,310.24 166.07,309.86 166.36,309.50 166.66,309.14 166.96,308.80 167.26,308.45 167.56,308.12 167.86,307.79 168.16,307.47 168.46,307.15 168.76,306.84 169.06,306.53 169.36,306.24 169.65,305.94 169.95,305.66 170.25,305.38 170.55,305.10 170.85,304.83 171.15,304.57 171.45,304.31 171.75,304.05 172.05,303.80 172.35,303.56 172.65,303.32 172.95,303.08 173.24,302.85 173.54,302.62 173.84,302.40 174.14,302.18 174.44,301.97 174.74,301.75 175.04,301.55 175.34,301.35 175.64,301.15 175.94,300.95 176.24,300.76 176.54,300.57 176.83,300.38 177.13,300.20 177.43,300.02 177.73,299.85 178.03,299.68 178.33,299.51 178.63,299.34 178.93,299.18 179.23,299.02 179.53,298.86 179.83,298.71 180.12,298.55 180.42,298.40 180.72,298.26 181.02,298.11 181.32,297.97 181.62,297.83 181.92,297.69 182.22,297.56 182.52,297.43 182.82,297.29 183.12,297.17 183.42,297.04 183.71,296.92 184.01,296.79 184.31,296.67 184.61,296.56 184.91,296.44 185.21,296.32 185.51,296.21 185.81,296.10 186.11,295.99 186.41,295.88 186.71,295.78 187.01,295.67 187.30,295.57 187.60,295.47 187.90,295.37 188.20,295.27 188.50,295.18 188.80,295.08 189.10,294.99 189.40,294.90 189.70,294.81 190.00,294.72 190.30,294.63 190.59,294.54 190.89,294.46 191.19,294.37 191.49,294.29 191.79,294.21 192.09,294.13 192.39,294.05 192.69,293.97 192.99,293.89 193.29,293.82 193.59,293.74 193.89,293.67 194.18,293.60 194.48,293.53 194.78,293.45 195.08,293.38 195.38,293.32 195.68,293.25 195.98,293.18 196.28,293.11 196.58,293.05 196.88,292.99 197.18,292.92 197.48,292.86 197.77,292.80 198.07,292.74 198.37,292.68 198.67,292.62 198.97,292.56 199.27,292.50 199.57,292.44 199.87,292.39 200.17,292.33 200.47,292.28 200.77,292.22 201.06,292.17 201.36,292.12 201.66,292.07 201.96,292.01 202.26,291.96 202.56,291.91 202.86,291.86 203.16,291.82 203.46,291.77 203.76,291.72 204.06,291.67 204.36,291.63 204.65,291.58 204.95,291.53 205.25,291.49 205.55,291.45 205.85,291.40 206.15,291.36 206.45,291.32 206.75,291.27 207.05,291.23 207.35,291.19 207.65,291.15 207.95,291.11 208.24,291.07 208.54,291.03 208.84,290.99 209.14,290.95 209.44,290.92 209.74,290.88 210.04,290.84 210.34,290.80 210.64,290.77 210.94,290.73 211.24,290.70 211.53,290.66 211.83,290.63 212.13,290.59 212.43,290.56 212.73,290.53 213.03,290.49 213.33,290.46 213.63,290.43 213.93,290.39 214.23,290.36 214.53,290.33 214.83,290.30 215.12,290.27 215.42,290.24 215.72,290.21 216.02,290.18 216.32,290.15 216.62,290.12 216.92,290.09 217.22,290.06 217.52,290.04 217.82,290.01 218.12,289.98 218.42,289.95 218.71,289.93 219.01,289.90 219.31,289.87 219.61,289.85 219.91,289.82 220.21,289.79 220.51,289.77 220.81,289.74 221.11,289.72 221.41,289.69 221.71,289.67 222.00,289.65 222.30,289.62 222.60,289.60 222.90,289.57 223.20,289.55 223.50,289.53 223.80,289.51 224.10,289.48 224.40,289.46 224.70,289.44 225.00,289.42 225.30,289.39 225.59,289.37 225.89,289.35 226.19,289.33 226.49,289.31 226.79,289.29 227.09,289.27 227.39,289.25 227.69,289.23 227.99,289.21 228.29,289.19 228.59,289.17 228.88,289.15 229.18,289.13 229.48,289.11 229.78,289.09 230.08,289.07 230.38,289.06 230.68,289.04 230.98,289.02 231.28,289.00 231.58,288.98 231.88,288.96 232.18,288.95 232.47,288.93 232.77,288.91 233.07,288.90 233.37,288.88 233.67,288.86 233.97,288.85 234.27,288.83 234.57,288.81 234.87,288.80 235.17,288.78 235.47,288.76 235.77,288.75 236.06,288.73 236.36,288.72 236.66,288.70 236.96,288.69 237.26,288.67 237.56,288.66 237.86,288.64 238.16,288.63 238.46,288.61 238.76,288.60 239.06,288.58 239.35,288.57 239.65,288.56 239.95,288.54 240.25,288.53 240.55,288.51 240.85,288.50 241.15,288.49 241.45,288.47 241.75,288.46 242.05,288.45 242.35,288.43 242.65,288.42 242.94,288.41 243.24,288.39 243.54,288.38 243.84,288.37 244.14,288.36 244.44,288.34 244.74,288.33 245.04,288.32 245.34,288.31 245.64,288.30 245.94,288.28 246.24,288.27 246.53,288.26 246.83,288.25 247.13,288.24 247.43,288.23 247.73,288.21 248.03,288.20 248.33,288.19 248.63,288.18 248.93,288.17 249.23,288.16 249.53,288.15 249.82,288.14 250.12,288.13 250.42,288.12 250.72,288.11 251.02,288.09 251.32,288.08 251.62,288.07 251.92,288.06 252.22,288.05 252.52,288.04 252.82,288.03 253.12,288.02 253.41,288.01 253.71,288.00 254.01,287.99 254.31,287.98 254.61,287.98 254.91,287.97 255.21,287.96 255.51,287.95 255.81,287.94 256.11,287.93 256.41,287.92 256.71,287.91 257.00,287.90 257.30,287.89 257.60,287.88 257.90,287.87 258.20,287.87 258.50,287.86" fill="none" stroke="#c0c0ff" stroke-width="1.1" stroke-linejoin="round" stroke-linecap="round" opacity="0.85"/>
<polyline points="49.40,283.64 49.70,283.62 50.00,283.60 50.30,283.58 50.60,283.56 50.90,283.53 51.19,283.51 51.49,283.49 51.79,283.47 52.09,283.45 52.39,283.42 52.69,283.40 52.99,283.38 53.29,283.35 53.59,283.33 53.89,283.30 54.19,283.28 54.49,283.25 54.78,283.23 55.08,283.20 55.38,283.18 55.68,283.15 55.98,283.12 56.28,283.10 56.58,283.07 56.88,283.04 57.18,283.02 57.48,282.99 57.78,282.96 58.08,282.93 58.37,282.90 58.67,282.87 58.97,282.84 59.27,282.81 59.57,282.78 59.87,282.75 60.17,282.72 60.47,282.68 60.77,282.65 61.07,282.62 61.37,282.59 61.66,282.55 61.96,282.52 62.26,282.48 62.56,282.45 62.86,282.41 63.16,282.38 63.46,282.34 63.76,282.30 64.06,282.27 64.36,282.23 64.66,282.19 64.96,282.15 65.25,282.11 65.55,282.07 65.85,282.03 66.15,281.99 66.45,281.95 66.75,281.90 67.05,281.86 67.35,281.82 67.65,281.77 67.95,281.73 68.25,281.68 68.55,281.64 68.84,281.59 69.14,281.54 69.44,281.50 69.74,281.45 70.04,281.40 70.34,281.35 70.64,281.30 70.94,281.25 71.24,281.19 71.54,281.14 71.84,281.09 72.13,281.03 72.43,280.98 72.73,280.92 73.03,280.87 73.33,280.81 73.63,280.75 73.93,280.69 74.23,280.63 74.53,280.57 74.83,280.51 75.13,280.44 75.43,280.38 75.72,280.31 76.02,280.25 76.32,280.18 76.62,280.11 76.92,280.04 77.22,279.97 77.52,279.90 77.82,279.83 78.12,279.76 78.42,279.68 78.72,279.61 79.02,279.53 79.31,279.45 79.61,279.37 79.91,279.29 80.21,279.21 80.51,279.13 80.81,279.04 81.11,278.96 81.41,278.87 81.71,278.78 82.01,278.69 82.31,278.60 82.60,278.51 82.90,278.41 83.20,278.32 83.50,278.22 83.80,278.12 84.10,278.02 84.40,277.92 84.70,277.81 85.00,277.71 85.30,277.60 85.60,277.49 85.90,277.38 86.19,277.27 86.49,277.15 86.79,277.04 87.09,276.92 87.39,276.80 87.69,276.67 87.99,276.55 88.29,276.42 88.59,276.29 88.89,276.16 89.19,276.03 89.48,275.89 89.78,275.75 90.08,275.61 90.38,275.47 90.68,275.32 90.98,275.18 91.28,275.02 91.58,274.87 91.88,274.72 92.18,274.56 92.48,274.39 92.78,274.23 93.07,274.06 93.37,273.89 93.67,273.72 93.97,273.54 94.27,273.36 94.57,273.18 94.87,272.99 95.17,272.80 95.47,272.61 95.77,272.42 96.07,272.22 96.37,272.01 96.66,271.81 96.96,271.59 97.26,271.38 97.56,271.16 97.86,270.94 98.16,270.71 98.46,270.48 98.76,270.25 99.06,270.01 99.36,269.76 99.66,269.52 99.95,269.26 100.25,269.01 100.55,268.74 100.85,268.48 101.15,268.21 101.45,267.93 101.75,267.65 102.05,267.36 102.35,267.07 102.65,266.77 102.95,266.47 103.25,266.16 103.54,265.85 103.84,265.53 104.14,265.20 104.44,264.87 104.74,264.54 105.04,264.20 105.34,263.85 105.64,263.49 105.94,263.13 106.24,262.76 106.54,262.39 106.84,262.01 107.13,261.62 107.43,261.23 107.73,260.83 108.03,260.42 108.33,260.01 108.63,259.59 108.93,259.16 109.23,258.72 109.53,258.28 109.83,257.83 110.13,257.38 110.42,256.92 110.72,256.45 111.02,255.97 111.32,255.48 111.62,254.99 111.92,254.50 112.22,253.99 112.52,253.48 112.82,252.96 113.12,252.43 113.42,251.90 113.72,251.36 114.01,250.82 114.31,250.27 114.61,249.71 114.91,249.14 115.21,248.58 115.51,248.00 115.81,247.42 116.11,246.84 116.41,246.25 116.71,245.66 117.01,245.07 117.31,244.47 117.60,243.87 117.90,243.27 118.20,242.66 118.50,242.06 118.80,241.45 119.10,240.85 119.40,240.25 119.70,239.65 120.00,239.06 120.30,238.47 120.60,237.88 120.89,237.30 121.19,236.73 121.49,236.17 121.79,235.62 122.09,235.08 122.39,234.56 122.69,234.05 122.99,233.56 123.29,233.08 123.59,232.63 123.89,232.19 124.19,231.79 124.48,231.40 124.78,231.05 125.08,230.73 125.38,230.43 125.68,230.18 125.98,229.96 126.28,229.78 126.58,229.64 126.88,229.55 127.18,229.50 127.48,229.51 127.78,229.57 128.07,229.68 128.37,229.85 128.67,230.08 128.97,230.37 129.27,230.73 129.57,231.15 129.87,231.65 130.17,232.21 130.47,232.85 130.77,233.57 131.07,234.36 131.36,235.24 131.66,236.19 131.96,237.22 132.26,238.34 132.56,239.54 132.86,240.82 133.16,242.19 133.46,243.64 133.76,245.17 134.06,246.78 134.36,248.47 134.66,250.24 134.95,252.09 135.25,254.01 135.55,256.00 135.85,258.06 136.15,260.18 136.45,262.36 136.75,264.59 137.05,266.88 137.35,269.21 137.65,271.58 137.95,273.99 138.25,276.43 138.54,278.89 138.84,281.36 139.14,283.85 139.44,286.35 139.74,288.87 140.04,291.38 140.34,293.88 140.64,296.36 140.94,298.81 141.24,301.22 141.54,303.60 141.83,305.93 142.13,308.21 142.43,310.44 142.73,312.60 143.03,314.70 143.33,316.74 143.63,318.70 143.93,320.58 144.23,322.39 144.53,324.12 144.83,325.76 145.13,327.33 145.42,328.80 145.72,330.20 146.02,331.51 146.32,332.73 146.62,333.87 146.92,334.93 147.22,335.91 147.52,336.80 147.82,337.62 148.12,338.35 148.42,339.02 148.72,339.60 149.01,340.12 149.31,340.57 149.61,340.95 149.91,341.27 150.21,341.53 150.51,341.73 150.81,341.87 151.11,341.96 151.41,342.00 151.71,341.99 152.01,341.93 152.30,341.84 152.60,341.70 152.90,341.53 153.20,341.32 153.50,341.07 153.80,340.80 154.10,340.50 154.40,340.17 154.70,339.82 155.00,339.44 155.30,339.04 155.60,338.63 155.89,338.20 156.19,337.75 156.49,337.29 156.79,336.81 157.09,336.33 157.39,335.83 157.69,335.33 157.99,334.81 158.29,334.29 158.59,333.77 158.89,333.24 159.18,332.71 159.48,332.18 159.78,331.64 160.08,331.10 160.38,330.56 160.68,330.02 160.98,329.49 161.28,328.95 161.58,328.41 161.88,327.88 162.18,327.35 162.48,326.82 162.77,326.30 163.07,325.78 163.37,325.26 163.67,324.75 163.97,324.24 164.27,323.74 164.57,323.24 164.87,322.74 165.17,322.26 165.47,321.77 165.77,321.29 166.07,320.82 166.36,320.35 166.66,319.89 166.96,319.44 167.26,318.99 167.56,318.54 167.86,318.11 168.16,317.67 168.46,317.25 168.76,316.83 169.06,316.41 169.36,316.00 169.65,315.60 169.95,315.20 170.25,314.81 170.55,314.43 170.85,314.05 171.15,313.67 171.45,313.30 171.75,312.94 172.05,312.58 172.35,312.23 172.65,311.88 172.95,311.54 173.24,311.21 173.54,310.87 173.84,310.55 174.14,310.23 174.44,309.91 174.74,309.60 175.04,309.29 175.34,308.99 175.64,308.70 175.94,308.41 176.24,308.12 176.54,307.84 176.83,307.56 177.13,307.28 177.43,307.01 177.73,306.75 178.03,306.49 178.33,306.23 178.63,305.98 178.93,305.73 179.23,305.48 179.53,305.24 179.83,305.01 180.12,304.77 180.42,304.54 180.72,304.32 181.02,304.09 181.32,303.88 181.62,303.66 181.92,303.45 182.22,303.24 182.52,303.03 182.82,302.83 183.12,302.63 183.42,302.43 183.71,302.24 184.01,302.05 184.31,301.86 184.61,301.68 184.91,301.50 185.21,301.32 185.51,301.14 185.81,300.97 186.11,300.80 186.41,300.63 186.71,300.46 187.01,300.30 187.30,300.14 187.60,299.98 187.90,299.83 188.20,299.67 188.50,299.52 188.80,299.37 189.10,299.23 189.40,299.08 189.70,298.94 190.00,298.80 190.30,298.66 190.59,298.52 190.89,298.39 191.19,298.26 191.49,298.13 191.79,298.00 192.09,297.87 192.39,297.75 192.69,297.62 192.99,297.50 193.29,297.38 193.59,297.26 193.89,297.15 194.18,297.03 194.48,296.92 194.78,296.81 195.08,296.70 195.38,296.59 195.68,296.48 195.98,296.38 196.28,296.27 196.58,296.17 196.88,296.07 197.18,295.97 197.48,295.87 197.77,295.77 198.07,295.68 198.37,295.58 198.67,295.49 198.97,295.40 199.27,295.31 199.57,295.22 199.87,295.13 200.17,295.04 200.47,294.96 200.77,294.87 201.06,294.79 201.36,294.71 201.66,294.63 201.96,294.55 202.26,294.47 202.56,294.39 202.86,294.31 203.16,294.23 203.46,294.16 203.76,294.08 204.06,294.01 204.36,293.94 204.65,293.87 204.95,293.80 205.25,293.73 205.55,293.66 205.85,293.59 206.15,293.52 206.45,293.45 206.75,293.39 207.05,293.32 207.35,293.26 207.65,293.20 207.95,293.13 208.24,293.07 208.54,293.01 208.84,292.95 209.14,292.89 209.44,292.83 209.74,292.77 210.04,292.72 210.34,292.66 210.64,292.60 210.94,292.55 211.24,292.49 211.53,292.44 211.83,292.39 212.13,292.33 212.43,292.28 212.73,292.23 213.03,292.18 213.33,292.13 213.63,292.08 213.93,292.03 214.23,291.98 214.53,291.93 214.83,291.89 215.12,291.84 215.42,291.79 215.72,291.75 216.02,291.70 216.32,291.65 216.62,291.61 216.92,291.57 217.22,291.52 217.52,291.48 217.82,291.44 218.12,291.40 218.42,291.35 218.71,291.31 219.01,291.27 219.31,291.23 219.61,291.19 219.91,291.15 220.21,291.11 220.51,291.07 220.81,291.04 221.11,291.00 221.41,290.96 221.71,290.92 222.00,290.89 222.30,290.85 222.60,290.82 222.90,290.78 223.20,290.75 223.50,290.71 223.80,290.68 224.10,290.64 224.40,290.61 224.70,290.58 225.00,290.54 225.30,290.51 225.59,290.48 225.89,290.45 226.19,290.41 226.49,290.38 226.79,290.35 227.09,290.32 227.39,290.29 227.69,290.26 227.99,290.23 228.29,290.20 228.59,290.17 228.88,290.14 229.18,290.11 229.48,290.09 229.78,290.06 230.08,290.03 230.38,290.00 230.68,289.98 230.98,289.95 231.28,289.92 231.58,289.90 231.88,289.87 232.18,289.84 232.47,289.82 232.77,289.79 233.07,289.77 233.37,289.74 233.67,289.72 233.97,289.69 234.27,289.67 234.57,289.64 234.87,289.62 235.17,289.60 235.47,289.57 235.77,289.55 236.06,289.53 236.36,289.50 236.66,289.48 236.96,289.46 237.26,289.44 237.56,289.42 237.86,289.39 238.16,289.37 238.46,289.35 238.76,289.33 239.06,289.31 239.35,289.29 239.65,289.27 239.95,289.25 240.25,289.23 240.55,289.21 240.85,289.19 241.15,289.17 241.45,289.15 241.75,289.13 242.05,289.11 242.35,289.09 242.65,289.07 242.94,289.05 243.24,289.03 243.54,289.02 243.84,289.00 244.14,288.98 244.44,288.96 244.74,288.94 245.04,288.93 245.34,288.91 245.64,288.89 245.94,288.87 246.24,288.86 246.53,288.84 246.83,288.82 247.13,288.81 247.43,288.79 247.73,288.78 248.03,288.76 248.33,288.74 248.63,288.73 248.93,288.71 249.23,288.70 249.53,288.68 249.82,288.66 250.12,288.65 250.42,288.63 250.72,288.62 251.02,288.60 251.32,288.59 251.62,288.58 251.92,288.56 252.22,288.55 252.52,288.53 252.82,288.52 253.12,288.50 253.41,288.49 253.71,288.48 254.01,288.46 254.31,288.45 254.61,288.44 254.91,288.42 255.21,288.41 255.51,288.40 255.81,288.38 256.11,288.37 256.41,288.36 256.71,288.34 257.00,288.33 257.30,288.32 257.60,288.31 257.90,288.29 258.20,288.28 258.50,288.27" fill="none" stroke="#d8288a" stroke-width="3.6" stroke-linejoin="round" stroke-linecap="round" />
<polyline points="49.40,283.64 49.70,283.62 50.00,283.60 50.30,283.58 50.60,283.56 50.90,283.53 51.19,283.51 51.49,283.49 51.79,283.47 52.09,283.45 52.39,283.42 52.69,283.40 52.99,283.38 53.29,283.35 53.59,283.33 53.89,283.30 54.19,283.28 54.49,283.25 54.78,283.23 55.08,283.20 55.38,283.18 55.68,283.15 55.98,283.12 56.28,283.10 56.58,283.07 56.88,283.04 57.18,283.02 57.48,282.99 57.78,282.96 58.08,282.93 58.37,282.90 58.67,282.87 58.97,282.84 59.27,282.81 59.57,282.78 59.87,282.75 60.17,282.72 60.47,282.68 60.77,282.65 61.07,282.62 61.37,282.59 61.66,282.55 61.96,282.52 62.26,282.48 62.56,282.45 62.86,282.41 63.16,282.38 63.46,282.34 63.76,282.30 64.06,282.27 64.36,282.23 64.66,282.19 64.96,282.15 65.25,282.11 65.55,282.07 65.85,282.03 66.15,281.99 66.45,281.95 66.75,281.90 67.05,281.86 67.35,281.82 67.65,281.77 67.95,281.73 68.25,281.68 68.55,281.64 68.84,281.59 69.14,281.54 69.44,281.50 69.74,281.45 70.04,281.40 70.34,281.35 70.64,281.30 70.94,281.25 71.24,281.19 71.54,281.14 71.84,281.09 72.13,281.03 72.43,280.98 72.73,280.92 73.03,280.87 73.33,280.81 73.63,280.75 73.93,280.69 74.23,280.63 74.53,280.57 74.83,280.51 75.13,280.44 75.43,280.38 75.72,280.31 76.02,280.25 76.32,280.18 76.62,280.11 76.92,280.04 77.22,279.97 77.52,279.90 77.82,279.83 78.12,279.76 78.42,279.68 78.72,279.61 79.02,279.53 79.31,279.45 79.61,279.37 79.91,279.29 80.21,279.21 80.51,279.13 80.81,279.04 81.11,278.96 81.41,278.87 81.71,278.78 82.01,278.69 82.31,278.60 82.60,278.51 82.90,278.41 83.20,278.32 83.50,278.22 83.80,278.12 84.10,278.02 84.40,277.92 84.70,277.81 85.00,277.71 85.30,277.60 85.60,277.49 85.90,277.38 86.19,277.27 86.49,277.15 86.79,277.04 87.09,276.92 87.39,276.80 87.69,276.67 87.99,276.55 88.29,276.42 88.59,276.29 88.89,276.16 89.19,276.03 89.48,275.89 89.78,275.75 90.08,275.61 90.38,275.47 90.68,275.32 90.98,275.18 91.28,275.02 91.58,274.87 91.88,274.72 92.18,274.56 92.48,274.39 92.78,274.23 93.07,274.06 93.37,273.89 93.67,273.72 93.97,273.54 94.27,273.36 94.57,273.18 94.87,272.99 95.17,272.80 95.47,272.61 95.77,272.42 96.07,272.22 96.37,272.01 96.66,271.81 96.96,271.59 97.26,271.38 97.56,271.16 97.86,270.94 98.16,270.71 98.46,270.48 98.76,270.25 99.06,270.01 99.36,269.76 99.66,269.52 99.95,269.26 100.25,269.01 100.55,268.74 100.85,268.48 101.15,268.21 101.45,267.93 101.75,267.65 102.05,267.36 102.35,267.07 102.65,266.77 102.95,266.47 103.25,266.16 103.54,265.85 103.84,265.53 104.14,265.20 104.44,264.87 104.74,264.54 105.04,264.20 105.34,263.85 105.64,263.49 105.94,263.13 106.24,262.76 106.54,262.39 106.84,262.01 107.13,261.62 107.43,261.23 107.73,260.83 108.03,260.42 108.33,260.01 108.63,259.59 108.93,259.16 109.23,258.72 109.53,258.28 109.83,257.83 110.13,257.38 110.42,256.92 110.72,256.45 111.02,255.97 111.32,255.48 111.62,254.99 111.92,254.50 112.22,253.99 112.52,253.48 112.82,252.96 113.12,252.43 113.42,251.90 113.72,251.36 114.01,250.82 114.31,250.27 114.61,249.71 114.91,249.14 115.21,248.58 115.51,248.00 115.81,247.42 116.11,246.84 116.41,246.25 116.71,245.66 117.01,245.07 117.31,244.47 117.60,243.87 117.90,243.27 118.20,242.66 118.50,242.06 118.80,241.45 119.10,240.85 119.40,240.25 119.70,239.65 120.00,239.06 120.30,238.47 120.60,237.88 120.89,237.30 121.19,236.73 121.49,236.17 121.79,235.62 122.09,235.08 122.39,234.56 122.69,234.05 122.99,233.56 123.29,233.08 123.59,232.63 123.89,232.19 124.19,231.79 124.48,231.40 124.78,231.05 125.08,230.73 125.38,230.43 125.68,230.18 125.98,229.96 126.28,229.78 126.58,229.64 126.88,229.55 127.18,229.50 127.48,229.51 127.78,229.57 128.07,229.68 128.37,229.85 128.67,230.08 128.97,230.37 129.27,230.73 129.57,231.15 129.87,231.65 130.17,232.21 130.47,232.85 130.77,233.57 131.07,234.36 131.36,235.24 131.66,236.19 131.96,237.22 132.26,238.34 132.56,239.54 132.86,240.82 133.16,242.19 133.46,243.64 133.76,245.17 134.06,246.78 134.36,248.47 134.66,250.24 134.95,252.09 135.25,254.01 135.55,256.00 135.85,258.06 136.15,260.18 136.45,262.36 136.75,264.59 137.05,266.88 137.35,269.21 137.65,271.58 137.95,273.99 138.25,276.43 138.54,278.89 138.84,281.36 139.14,283.85 139.44,286.35 139.74,288.87 140.04,291.38 140.34,293.88 140.64,296.36 140.94,298.81 141.24,301.22 141.54,303.60 141.83,305.93 142.13,308.21 142.43,310.44 142.73,312.60 143.03,314.70 143.33,316.74 143.63,318.70 143.93,320.58 144.23,322.39 144.53,324.12 144.83,325.76 145.13,327.33 145.42,328.80 145.72,330.20 146.02,331.51 146.32,332.73 146.62,333.87 146.92,334.93 147.22,335.91 147.52,336.80 147.82,337.62 148.12,338.35 148.42,339.02 148.72,339.60 149.01,340.12 149.31,340.57 149.61,340.95 149.91,341.27 150.21,341.53 150.51,341.73 150.81,341.87 151.11,341.96 151.41,342.00 151.71,341.99 152.01,341.93 152.30,341.84 152.60,341.70 152.90,341.53 153.20,341.32 153.50,341.07 153.80,340.80 154.10,340.50 154.40,340.17 154.70,339.82 155.00,339.44 155.30,339.04 155.60,338.63 155.89,338.20 156.19,337.75 156.49,337.29 156.79,336.81 157.09,336.33 157.39,335.83 157.69,335.33 157.99,334.81 158.29,334.29 158.59,333.77 158.89,333.24 159.18,332.71 159.48,332.18 159.78,331.64 160.08,331.10 160.38,330.56 160.68,330.02 160.98,329.49 161.28,328.95 161.58,328.41 161.88,327.88 162.18,327.35 162.48,326.82 162.77,326.30 163.07,325.78 163.37,325.26 163.67,324.75 163.97,324.24 164.27,323.74 164.57,323.24 164.87,322.74 165.17,322.26 165.47,321.77 165.77,321.29 166.07,320.82 166.36,320.35 166.66,319.89 166.96,319.44 167.26,318.99 167.56,318.54 167.86,318.11 168.16,317.67 168.46,317.25 168.76,316.83 169.06,316.41 169.36,316.00 169.65,315.60 169.95,315.20 170.25,314.81 170.55,314.43 170.85,314.05 171.15,313.67 171.45,313.30 171.75,312.94 172.05,312.58 172.35,312.23 172.65,311.88 172.95,311.54 173.24,311.21 173.54,310.87 173.84,310.55 174.14,310.23 174.44,309.91 174.74,309.60 175.04,309.29 175.34,308.99 175.64,308.70 175.94,308.41 176.24,308.12 176.54,307.84 176.83,307.56 177.13,307.28 177.43,307.01 177.73,306.75 178.03,306.49 178.33,306.23 178.63,305.98 178.93,305.73 179.23,305.48 179.53,305.24 179.83,305.01 180.12,304.77 180.42,304.54 180.72,304.32 181.02,304.09 181.32,303.88 181.62,303.66 181.92,303.45 182.22,303.24 182.52,303.03 182.82,302.83 183.12,302.63 183.42,302.43 183.71,302.24 184.01,302.05 184.31,301.86 184.61,301.68 184.91,301.50 185.21,301.32 185.51,301.14 185.81,300.97 186.11,300.80 186.41,300.63 186.71,300.46 187.01,300.30 187.30,300.14 187.60,299.98 187.90,299.83 188.20,299.67 188.50,299.52 188.80,299.37 189.10,299.23 189.40,299.08 189.70,298.94 190.00,298.80 190.30,298.66 190.59,298.52 190.89,298.39 191.19,298.26 191.49,298.13 191.79,298.00 192.09,297.87 192.39,297.75 192.69,297.62 192.99,297.50 193.29,297.38 193.59,297.26 193.89,297.15 194.18,297.03 194.48,296.92 194.78,296.81 195.08,296.70 195.38,296.59 195.68,296.48 195.98,296.38 196.28,296.27 196.58,296.17 196.88,296.07 197.18,295.97 197.48,295.87 197.77,295.77 198.07,295.68 198.37,295.58 198.67,295.49 198.97,295.40 199.27,295.31 199.57,295.22 199.87,295.13 200.17,295.04 200.47,294.96 200.77,294.87 201.06,294.79 201.36,294.71 201.66,294.63 201.96,294.55 202.26,294.47 202.56,294.39 202.86,294.31 203.16,294.23 203.46,294.16 203.76,294.08 204.06,294.01 204.36,293.94 204.65,293.87 204.95,293.80 205.25,293.73 205.55,293.66 205.85,293.59 206.15,293.52 206.45,293.45 206.75,293.39 207.05,293.32 207.35,293.26 207.65,293.20 207.95,293.13 208.24,293.07 208.54,293.01 208.84,292.95 209.14,292.89 209.44,292.83 209.74,292.77 210.04,292.72 210.34,292.66 210.64,292.60 210.94,292.55 211.24,292.49 211.53,292.44 211.83,292.39 212.13,292.33 212.43,292.28 212.73,292.23 213.03,292.18 213.33,292.13 213.63,292.08 213.93,292.03 214.23,291.98 214.53,291.93 214.83,291.89 215.12,291.84 215.42,291.79 215.72,291.75 216.02,291.70 216.32,291.65 216.62,291.61 216.92,291.57 217.22,291.52 217.52,291.48 217.82,291.44 218.12,291.40 218.42,291.35 218.71,291.31 219.01,291.27 219.31,291.23 219.61,291.19 219.91,291.15 220.21,291.11 220.51,291.07 220.81,291.04 221.11,291.00 221.41,290.96 221.71,290.92 222.00,290.89 222.30,290.85 222.60,290.82 222.90,290.78 223.20,290.75 223.50,290.71 223.80,290.68 224.10,290.64 224.40,290.61 224.70,290.58 225.00,290.54 225.30,290.51 225.59,290.48 225.89,290.45 226.19,290.41 226.49,290.38 226.79,290.35 227.09,290.32 227.39,290.29 227.69,290.26 227.99,290.23 228.29,290.20 228.59,290.17 228.88,290.14 229.18,290.11 229.48,290.09 229.78,290.06 230.08,290.03 230.38,290.00 230.68,289.98 230.98,289.95 231.28,289.92 231.58,289.90 231.88,289.87 232.18,289.84 232.47,289.82 232.77,289.79 233.07,289.77 233.37,289.74 233.67,289.72 233.97,289.69 234.27,289.67 234.57,289.64 234.87,289.62 235.17,289.60 235.47,289.57 235.77,289.55 236.06,289.53 236.36,289.50 236.66,289.48 236.96,289.46 237.26,289.44 237.56,289.42 237.86,289.39 238.16,289.37 238.46,289.35 238.76,289.33 239.06,289.31 239.35,289.29 239.65,289.27 239.95,289.25 240.25,289.23 240.55,289.21 240.85,289.19 241.15,289.17 241.45,289.15 241.75,289.13 242.05,289.11 242.35,289.09 242.65,289.07 242.94,289.05 243.24,289.03 243.54,289.02 243.84,289.00 244.14,288.98 244.44,288.96 244.74,288.94 245.04,288.93 245.34,288.91 245.64,288.89 245.94,288.87 246.24,288.86 246.53,288.84 246.83,288.82 247.13,288.81 247.43,288.79 247.73,288.78 248.03,288.76 248.33,288.74 248.63,288.73 248.93,288.71 249.23,288.70 249.53,288.68 249.82,288.66 250.12,288.65 250.42,288.63 250.72,288.62 251.02,288.60 251.32,288.59 251.62,288.58 251.92,288.56 252.22,288.55 252.52,288.53 252.82,288.52 253.12,288.50 253.41,288.49 253.71,288.48 254.01,288.46 254.31,288.45 254.61,288.44 254.91,288.42 255.21,288.41 255.51,288.40 255.81,288.38 256.11,288.37 256.41,288.36 256.71,288.34 257.00,288.33 257.30,288.32 257.60,288.31 257.90,288.29 258.20,288.28 258.50,288.27" fill="none" stroke="#f4b8d6" stroke-width="1.1" stroke-linejoin="round" stroke-linecap="round" opacity="0.85"/>
</g>
<rect x="49.4" y="197.6" width="209.1" height="148.6" fill="none" stroke="#555" stroke-width="1.15"/>
<line x1="61.00" y1="346.20" x2="61.00" y2="343.00" stroke="#555" stroke-width="1" />
<line x1="61.00" y1="197.60" x2="61.00" y2="200.80" stroke="#555" stroke-width="1" />
<line x1="89.42" y1="346.20" x2="89.42" y2="344.20" stroke="#555" stroke-width="1" />
<line x1="89.42" y1="197.60" x2="89.42" y2="199.60" stroke="#555" stroke-width="1" />
<line x1="117.85" y1="346.20" x2="117.85" y2="343.00" stroke="#555" stroke-width="1" />
<line x1="117.85" y1="197.60" x2="117.85" y2="200.80" stroke="#555" stroke-width="1" />
<line x1="146.27" y1="346.20" x2="146.27" y2="344.20" stroke="#555" stroke-width="1" />
<line x1="146.27" y1="197.60" x2="146.27" y2="199.60" stroke="#555" stroke-width="1" />
<line x1="174.70" y1="346.20" x2="174.70" y2="343.00" stroke="#555" stroke-width="1" />
<line x1="174.70" y1="197.60" x2="174.70" y2="200.80" stroke="#555" stroke-width="1" />
<line x1="203.12" y1="346.20" x2="203.12" y2="344.20" stroke="#555" stroke-width="1" />
<line x1="203.12" y1="197.60" x2="203.12" y2="199.60" stroke="#555" stroke-width="1" />
<line x1="231.55" y1="346.20" x2="231.55" y2="343.00" stroke="#555" stroke-width="1" />
<line x1="231.55" y1="197.60" x2="231.55" y2="200.80" stroke="#555" stroke-width="1" />
<line x1="49.40" y1="212.30" x2="52.40" y2="212.30" stroke="#555" stroke-width="1" />
<line x1="258.50" y1="212.30" x2="255.50" y2="212.30" stroke="#555" stroke-width="1" />
<line x1="49.40" y1="236.50" x2="52.40" y2="236.50" stroke="#555" stroke-width="1" />
<line x1="258.50" y1="236.50" x2="255.50" y2="236.50" stroke="#555" stroke-width="1" />
<line x1="49.40" y1="260.70" x2="52.40" y2="260.70" stroke="#555" stroke-width="1" />
<line x1="258.50" y1="260.70" x2="255.50" y2="260.70" stroke="#555" stroke-width="1" />
<line x1="49.40" y1="284.90" x2="52.40" y2="284.90" stroke="#555" stroke-width="1" />
<line x1="258.50" y1="284.90" x2="255.50" y2="284.90" stroke="#555" stroke-width="1" />
<line x1="49.40" y1="309.10" x2="52.40" y2="309.10" stroke="#555" stroke-width="1" />
<line x1="258.50" y1="309.10" x2="255.50" y2="309.10" stroke="#555" stroke-width="1" />
<line x1="49.40" y1="333.30" x2="52.40" y2="333.30" stroke="#555" stroke-width="1" />
<line x1="258.50" y1="333.30" x2="255.50" y2="333.30" stroke="#555" stroke-width="1" />
<text x="61.00" y="360.90" font-size="13.5" fill="#000" text-anchor="middle"  stroke="#000" stroke-width="0.22">0.2</text>
<text x="117.85" y="360.90" font-size="13.5" fill="#000" text-anchor="middle"  stroke="#000" stroke-width="0.22">0.3</text>
<text x="174.70" y="360.90" font-size="13.5" fill="#000" text-anchor="middle"  stroke="#000" stroke-width="0.22">0.4</text>
<text x="231.55" y="360.90" font-size="13.5" fill="#000" text-anchor="middle"  stroke="#000" stroke-width="0.22">0.5</text>
<text x="131.6" y="375.1" font-size="14.1" fill="#000" stroke="#000" stroke-width="0.22"><tspan font-style="italic">μ</tspan><tspan font-size="10" dy="3">0</tspan><tspan dy="-3" font-style="italic">H</tspan> (T)</text>
<text transform="translate(26.3,341.5) rotate(-90)" font-size="14" textLength="139" lengthAdjust="spacingAndGlyphs" fill="#000" stroke="#000" stroke-width="0.22">ESR signal (arb. units)</text>
<text x="62.30" y="224.00" font-size="21.4" fill="#000" text-anchor="start"  stroke="#000" stroke-width="0.22">(d)</text>
<line x1="117.90" y1="203.50" x2="162.30" y2="203.50" stroke="#d8288a" stroke-width="2.4" opacity="0.85"/>
<line x1="117.90" y1="201.50" x2="117.90" y2="205.50" stroke="#d8288a" stroke-width="1.1" />
<line x1="162.30" y1="201.50" x2="162.30" y2="205.50" stroke="#d8288a" stroke-width="1.1" />
<line x1="123.00" y1="211.60" x2="157.50" y2="211.60" stroke="#2a2af0" stroke-width="2.4" opacity="0.85"/>
<line x1="123.00" y1="209.60" x2="123.00" y2="213.60" stroke="#2a2af0" stroke-width="1.1" />
<line x1="157.50" y1="209.60" x2="157.50" y2="213.60" stroke="#2a2af0" stroke-width="1.1" />
<line x1="130.20" y1="218.60" x2="150.60" y2="218.60" stroke="#808080" stroke-width="2.4" opacity="0.85"/>
<line x1="130.20" y1="216.60" x2="130.20" y2="220.60" stroke="#808080" stroke-width="1.1" />
<line x1="150.60" y1="216.60" x2="150.60" y2="220.60" stroke="#808080" stroke-width="1.1" />
<text x="172.8" y="210.1" font-size="12" fill="#d42a88" textLength="58.9" lengthAdjust="spacingAndGlyphs" stroke="#d42a88" stroke-width="0.22">0.0778(2) T</text>
<text x="172.8" y="224.9" font-size="12" fill="#2828e0" textLength="58.9" lengthAdjust="spacingAndGlyphs" stroke="#2828e0" stroke-width="0.22">0.0616(2) T</text>
<text x="172.8" y="239.4" font-size="12" fill="#8a8a8a" textLength="58.9" lengthAdjust="spacingAndGlyphs" stroke="#8a8a8a" stroke-width="0.22">0.0357(2) T</text>
<rect x="172.1" y="251.7" width="3.6" height="3.6" fill="none" stroke="#e070a8" stroke-width="0.9"/>
<circle cx="173.9" cy="270.1" r="2.0" fill="none" stroke="#7070e0" stroke-width="0.9"/>
<text x="190.8" y="257.0" font-size="12.5" fill="#111" stroke="#111" stroke-width="0.22"><tspan font-family="Liberation Serif" font-size="14.0">α</tspan>-CrOOD</text>
<text x="190.8" y="273.8" font-size="12.5" fill="#111" stroke="#111" stroke-width="0.22"><tspan font-family="Liberation Serif" font-size="14.0">α</tspan>-CrOOH</text>
<text x="55.2" y="307.9" font-size="12.4" fill="#d42a88" stroke="#d42a88" stroke-width="0.22"><tspan font-style="italic">g</tspan>(D) = 1.98(1)</text>
<text x="55.2" y="323.0" font-size="12.4" fill="#2828e0" stroke="#2828e0" stroke-width="0.22"><tspan font-style="italic">g</tspan>(H) = 1.97(1)</text>
<text x="54.60" y="338.20" font-size="12.4" fill="#111" text-anchor="start"  stroke="#111" stroke-width="0.22">9.4GHz, 300K</text>
<line x1="179.40" y1="319.50" x2="204.30" y2="319.50" stroke="#808080" stroke-width="1.6" />
<text x="208.4" y="323.1" font-size="12" fill="#8a8a8a" textLength="39" lengthAdjust="spacingAndGlyphs" stroke="#8a8a8a" stroke-width="0.22">CuCrO<tspan font-size="8.5" dy="3">2</tspan></text>
<text x="180.6" y="339.4" font-size="12" fill="#8a8a8a" textLength="72.4" lengthAdjust="spacingAndGlyphs" stroke="#8a8a8a" stroke-width="0.22">Hemmida <tspan font-style="italic">et al</tspan></text>
<clipPath id="clipe2"><rect x="319.6" y="197.5" width="208.69999999999993" height="148.39999999999998"/></clipPath>
<g clip-path="url(#clipe2)">
<polyline points="320.00,343.60 321.77,342.10 323.55,340.63 325.32,339.17 327.09,337.74 328.87,336.33 330.64,334.93 332.41,333.55 334.18,332.18 335.96,330.83 337.73,329.49 339.50,328.17 341.28,326.85 343.05,325.55 344.82,324.25 346.60,322.97 348.37,321.69 350.14,320.42 351.92,319.15 353.69,317.90 355.46,316.65 357.24,315.40 359.01,314.16 360.78,312.93 362.55,311.70 364.33,310.47 366.10,309.25 367.87,308.03 369.65,306.82 371.42,305.60 373.19,304.40 374.97,303.19 376.74,301.99 378.51,300.79 380.29,299.59 382.06,298.39 383.83,297.20 385.61,296.00 387.38,294.81 389.15,293.62 390.92,292.43 392.70,291.25 394.47,290.06 396.24,288.88 398.02,287.69 399.79,286.51 401.56,285.33 403.34,284.15 405.11,282.97 406.88,281.79 408.66,280.61 410.43,279.43 412.20,278.25 413.97,277.08 415.75,275.90 417.52,274.73 419.29,273.55 421.07,272.38 422.84,271.20 424.61,270.03 426.39,268.85 428.16,267.68 429.93,266.51 431.71,265.33 433.48,264.16 435.25,262.99 437.03,261.82 438.80,260.65 440.57,259.48 442.34,258.34 444.12,257.20 445.89,256.06 447.66,254.91 449.44,253.77 451.21,252.63 452.98,251.49 454.76,250.35 456.53,249.21 458.30,248.06 460.08,246.92 461.85,245.78 463.62,244.64 465.39,243.50 467.17,242.36 468.94,241.22 470.71,240.08 472.49,238.94 474.26,237.80 476.03,236.66 477.81,235.52 479.58,234.38 481.35,233.24 483.13,232.10 484.90,230.96 486.67,229.82 488.45,228.68 490.22,227.54 491.99,226.40 493.76,225.26 495.54,224.12 497.31,222.98 499.08,221.84 500.86,220.70 502.63,219.56 504.40,218.42 506.18,217.28 507.95,216.14 509.72,215.00 511.50,213.86 513.27,212.72 515.04,211.58 516.82,210.44 518.59,209.30 520.36,208.16 522.13,207.02 523.91,205.88 525.68,204.74 527.45,203.60 529.23,202.44 531.00,201.28" fill="none" stroke="#2222f0" stroke-width="4.6" stroke-linejoin="round" stroke-linecap="round" />
<polyline points="320.00,343.60 321.51,342.32 323.02,341.06 324.53,339.82 326.04,338.59 327.54,337.38 329.05,336.18 330.56,334.99 332.07,333.81 333.58,332.65 335.09,331.49 336.60,330.35 338.11,329.21 339.61,328.09 341.12,326.97 342.63,325.85 344.14,324.75 345.65,323.65 347.16,322.56 348.67,321.47 350.18,320.39 351.69,319.32 353.19,318.25 354.70,317.18 356.21,316.12 357.72,315.06 359.23,314.01 360.74,312.96 362.25,311.91 363.76,310.87 365.27,309.82 366.77,308.79 368.28,307.75 369.79,306.72 371.30,305.69 372.81,304.66 374.32,303.63 375.83,302.61 377.34,301.58 378.84,300.56 380.35,299.54 381.86,298.52 383.37,297.51 384.88,296.49 386.39,295.48 387.90,294.46 389.41,293.45 390.92,292.44 392.42,291.43 393.93,290.42 395.44,289.41 396.95,288.40 398.46,287.40 399.97,286.39 401.48,285.38 402.99,284.38 404.50,283.38 406.00,282.37 407.51,281.37 409.02,280.37 410.53,279.36 412.04,278.36 413.55,277.36 415.06,276.36 416.57,275.36 418.07,274.36 419.58,273.36 421.09,272.36 422.60,271.36 424.11,270.36" fill="none" stroke="#c01cb0" stroke-width="2.4" stroke-linejoin="round" stroke-linecap="round" />
<line x1="319.60" y1="340.86" x2="531.00" y2="201.53" stroke="#000" stroke-width="1.9" />
</g>
<rect x="319.6" y="197.5" width="208.69999999999993" height="148.39999999999998" fill="none" stroke="#555" stroke-width="1.15"/>
<line x1="319.60" y1="345.90" x2="319.60" y2="342.70" stroke="#555" stroke-width="1" />
<line x1="319.60" y1="197.50" x2="319.60" y2="200.70" stroke="#555" stroke-width="1" />
<line x1="356.93" y1="345.90" x2="356.93" y2="343.90" stroke="#555" stroke-width="1" />
<line x1="356.93" y1="197.50" x2="356.93" y2="199.50" stroke="#555" stroke-width="1" />
<line x1="394.25" y1="345.90" x2="394.25" y2="342.70" stroke="#555" stroke-width="1" />
<line x1="394.25" y1="197.50" x2="394.25" y2="200.70" stroke="#555" stroke-width="1" />
<line x1="431.58" y1="345.90" x2="431.58" y2="343.90" stroke="#555" stroke-width="1" />
<line x1="431.58" y1="197.50" x2="431.58" y2="199.50" stroke="#555" stroke-width="1" />
<line x1="468.90" y1="345.90" x2="468.90" y2="342.70" stroke="#555" stroke-width="1" />
<line x1="468.90" y1="197.50" x2="468.90" y2="200.70" stroke="#555" stroke-width="1" />
<line x1="506.23" y1="345.90" x2="506.23" y2="343.90" stroke="#555" stroke-width="1" />
<line x1="506.23" y1="197.50" x2="506.23" y2="199.50" stroke="#555" stroke-width="1" />
<line x1="319.60" y1="345.90" x2="322.80" y2="345.90" stroke="#555" stroke-width="1" />
<line x1="528.30" y1="345.90" x2="525.10" y2="345.90" stroke="#555" stroke-width="1" />
<line x1="319.60" y1="320.25" x2="321.60" y2="320.25" stroke="#555" stroke-width="1" />
<line x1="528.30" y1="320.25" x2="526.30" y2="320.25" stroke="#555" stroke-width="1" />
<line x1="319.60" y1="294.60" x2="322.80" y2="294.60" stroke="#555" stroke-width="1" />
<line x1="528.30" y1="294.60" x2="525.10" y2="294.60" stroke="#555" stroke-width="1" />
<line x1="319.60" y1="268.95" x2="321.60" y2="268.95" stroke="#555" stroke-width="1" />
<line x1="528.30" y1="268.95" x2="526.30" y2="268.95" stroke="#555" stroke-width="1" />
<line x1="319.60" y1="243.30" x2="322.80" y2="243.30" stroke="#555" stroke-width="1" />
<line x1="528.30" y1="243.30" x2="525.10" y2="243.30" stroke="#555" stroke-width="1" />
<line x1="319.60" y1="217.65" x2="321.60" y2="217.65" stroke="#555" stroke-width="1" />
<line x1="528.30" y1="217.65" x2="526.30" y2="217.65" stroke="#555" stroke-width="1" />
<text x="319.60" y="360.90" font-size="13.5" fill="#000" text-anchor="middle"  stroke="#000" stroke-width="0.22">0</text>
<text x="394.25" y="360.90" font-size="13.5" fill="#000" text-anchor="middle"  stroke="#000" stroke-width="0.22">5</text>
<text x="468.90" y="360.90" font-size="13.5" fill="#000" text-anchor="middle"  stroke="#000" stroke-width="0.22">10</text>
<text x="315.70" y="350.60" font-size="13.5" fill="#000" text-anchor="end"  stroke="#000" stroke-width="0.22">0.00</text>
<text x="315.70" y="299.30" font-size="13.5" fill="#000" text-anchor="end"  stroke="#000" stroke-width="0.22">0.05</text>
<text x="315.70" y="248.00" font-size="13.5" fill="#000" text-anchor="end"  stroke="#000" stroke-width="0.22">0.10</text>
<text x="400.0" y="377.2" font-size="15.3" fill="#000" stroke="#000" stroke-width="0.22"><tspan font-style="italic">μ</tspan><tspan font-size="10" dy="3">0</tspan><tspan dy="-3" font-style="italic">H</tspan> (T)</text>
<text transform="translate(284.0,302.9) rotate(-90)" font-size="14.5" textLength="64.6" lengthAdjust="spacingAndGlyphs" fill="#000" stroke="#000" stroke-width="0.22"><tspan font-style="italic">M</tspan> (<tspan font-style="italic">μ</tspan><tspan font-size="9.5" dy="3">B</tspan><tspan dy="-3">/Cr)</tspan></text>
<text x="328.40" y="222.80" font-size="21.4" fill="#000" text-anchor="start"  stroke="#000" stroke-width="0.22">(e)</text>
<text x="461.30" y="297.30" font-size="14.2" fill="#000" text-anchor="start"  stroke="#000" stroke-width="0.22">2 K</text>
<rect x="440.4" y="310.3" width="3.7" height="3.7" fill="#d42a88"/>
<circle cx="442.2" cy="328.2" r="2.0" fill="none" stroke="#5050e8" stroke-width="0.9"/>
<text x="459.4" y="316.2" font-size="12.3" fill="#111" stroke="#111" stroke-width="0.22"><tspan font-family="Liberation Serif" font-size="13.8">α</tspan>-CrOOD</text>
<text x="459.4" y="332.4" font-size="12.3" fill="#111" stroke="#111" stroke-width="0.22"><tspan font-family="Liberation Serif" font-size="13.8">α</tspan>-CrOOH</text>
<text x="323.4" y="284.5" font-size="13.6" fill="#000" stroke="#000" stroke-width="0.22"><tspan font-style="italic">M</tspan><tspan font-size="9.5" dy="3.3">im</tspan><tspan dy="-3.3"> ≤ 0.2%</tspan></text>
<line x1="348.30" y1="295.00" x2="321.40" y2="335.60" stroke="#000" stroke-width="0.9" />
<polyline points="322.49,330.33 321.40,335.60 325.83,332.54" fill="none" stroke="#000" stroke-width="0.9"/>
</svg></body></html>
